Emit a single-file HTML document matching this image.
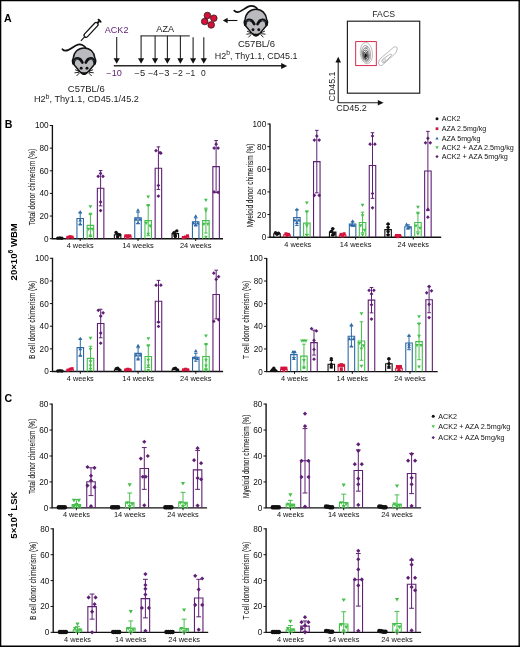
<!DOCTYPE html>
<html><head><meta charset="utf-8"><title>Figure</title>
<style>html,body{margin:0;padding:0;background:#fff;}svg{display:block;}text{font-family:"Liberation Sans", sans-serif;}</style>
</head><body>
<svg style="will-change:transform" width="520" height="647" viewBox="0 0 520 647">
<rect width="520" height="647" fill="#fff"/>
<text x="4.00" y="21.50" font-size="10.6" text-anchor="start" font-weight="bold" fill="#000">A</text>
<g transform="translate(80.9 40.8) rotate(-47)"><path d="M0 0H5.8" stroke="#111" stroke-width="1.1"/><rect x="5.6" y="-2" width="18.6" height="4" rx="2" fill="#fff" stroke="#111" stroke-width="1.25"/><path d="M24 0H26.6" stroke="#111" stroke-width="2.0"/><ellipse cx="27.4" cy="0" rx="1.15" ry="2.5" fill="#111"/></g>
<g transform="translate(0.00 0.00)"><path d="M86.2 48.8C84.8 45.2 80.5 43.4 76.4 45.2C72.4 47 69.6 50.6 65.6 50.7C64.2 50.7 63 50 62.4 49.2" stroke="#111" stroke-width="1.7" fill="none" stroke-linecap="round"/><path d="M84 74.3C82.2 74.3 80.9 72.8 79.7 71.5L74.1 64.8C72.2 62.7 71.9 60.4 73.3 58.2C73.8 52 78.2 47.9 84.1 47.9C90 47.9 94.4 52 94.9 58.2C96.3 60.4 96 62.7 94.1 64.8L88.5 71.5C87.3 72.8 85.8 74.3 84 74.3Z" fill="#bababf" stroke="#111" stroke-width="1.45" stroke-linejoin="round"/><path d="M73.5 63.4C73.5 59.7 75.8 58.3 77.8 58.4C79.9 58.5 81.4 60.2 82.4 62.6M94.7 63.4C94.7 59.7 92.4 58.3 90.4 58.4C88.3 58.5 86.8 60.2 85.8 62.6" stroke="#111" stroke-width="2.7" fill="none" stroke-linecap="round"/><path d="M74.4 60.9C75.1 59.6 76.5 59 78.3 59.1M93.8 60.9C93.1 59.6 91.7 59 89.9 59.1" stroke="#4a6684" stroke-width="0.7" fill="none" stroke-linecap="round"/><circle cx="81.2" cy="68.3" r="1.45" fill="#111"/><circle cx="87.0" cy="68.3" r="1.45" fill="#111"/><path d="M80.2 71.6C82 72.5 86.4 72.5 88.2 71.6C87.4 74 85.6 75.1 84.2 75.1C82.8 75.1 81 74 80.2 71.6Z" fill="#111"/><path d="M79.4 71.5L75.1 69.7M79.1 72.3L74.5 72.8M79.5 73L76.5 76M88.8 71.5L93.1 69.7M89.1 72.3L93.7 72.8M88.7 73L91.7 76" stroke="#000" stroke-width="0.85"/></g>
<g transform="translate(171.80 -38.60)"><path d="M86.2 48.8C84.8 45.2 80.5 43.4 76.4 45.2C72.4 47 69.6 50.6 65.6 50.7C64.2 50.7 63 50 62.4 49.2" stroke="#111" stroke-width="1.7" fill="none" stroke-linecap="round"/><path d="M84 74.3C82.2 74.3 80.9 72.8 79.7 71.5L74.1 64.8C72.2 62.7 71.9 60.4 73.3 58.2C73.8 52 78.2 47.9 84.1 47.9C90 47.9 94.4 52 94.9 58.2C96.3 60.4 96 62.7 94.1 64.8L88.5 71.5C87.3 72.8 85.8 74.3 84 74.3Z" fill="#bababf" stroke="#111" stroke-width="1.45" stroke-linejoin="round"/><path d="M73.5 63.4C73.5 59.7 75.8 58.3 77.8 58.4C79.9 58.5 81.4 60.2 82.4 62.6M94.7 63.4C94.7 59.7 92.4 58.3 90.4 58.4C88.3 58.5 86.8 60.2 85.8 62.6" stroke="#111" stroke-width="2.7" fill="none" stroke-linecap="round"/><path d="M74.4 60.9C75.1 59.6 76.5 59 78.3 59.1M93.8 60.9C93.1 59.6 91.7 59 89.9 59.1" stroke="#4a6684" stroke-width="0.7" fill="none" stroke-linecap="round"/><circle cx="81.2" cy="68.3" r="1.45" fill="#111"/><circle cx="87.0" cy="68.3" r="1.45" fill="#111"/><path d="M80.2 71.6C82 72.5 86.4 72.5 88.2 71.6C87.4 74 85.6 75.1 84.2 75.1C82.8 75.1 81 74 80.2 71.6Z" fill="#111"/><path d="M79.4 71.5L75.1 69.7M79.1 72.3L74.5 72.8M79.5 73L76.5 76M88.8 71.5L93.1 69.7M89.1 72.3L93.7 72.8M88.7 73L91.7 76" stroke="#000" stroke-width="0.85"/></g>
<text x="86.30" y="91.90" font-size="9.2" text-anchor="middle" font-weight="normal" fill="#222" textLength="36.90" lengthAdjust="spacingAndGlyphs">C57BL/6</text>
<text x="86.40" y="102.30" font-size="9.2" text-anchor="middle" font-weight="normal" fill="#222" textLength="105.00" lengthAdjust="spacingAndGlyphs">H2<tspan font-size="7" dy="-3.1">b</tspan><tspan dy="3.1">, Thy1.1, CD45.1/45.2</tspan></text>
<text x="256.50" y="47.10" font-size="9.2" text-anchor="middle" font-weight="normal" fill="#222" textLength="37.10" lengthAdjust="spacingAndGlyphs">C57BL/6</text>
<text x="256.20" y="58.50" font-size="9.2" text-anchor="middle" font-weight="normal" fill="#222" textLength="82.70" lengthAdjust="spacingAndGlyphs">H2<tspan font-size="7" dy="-3.1">b</tspan><tspan dy="3.1">, Thy1.1, CD45.1</tspan></text>
<text x="116.60" y="33.10" font-size="9.0" text-anchor="middle" font-weight="normal" fill="#5a1c70" textLength="23.70" lengthAdjust="spacingAndGlyphs">ACK2</text>
<text x="165.20" y="31.70" font-size="9.0" text-anchor="middle" font-weight="normal" fill="#222" textLength="17.70" lengthAdjust="spacingAndGlyphs">AZA</text>
<path d="M113.8 65.7H282.5" stroke="#2a2a2a" stroke-width="1.5"/>
<path d="M287.2 65.9L281.2 62.9L281.2 68.9Z" fill="#111"/>
<path d="M140.6 35.8H189.8" stroke="#444" stroke-width="1.3"/>
<path d="M116.7 36.9V59" stroke="#222" stroke-width="1.1"/>
<path d="M113.60000000000001 58.2L119.8 58.2L116.7 63.8Z" fill="#111"/>
<path d="M141.1 35.8V59" stroke="#222" stroke-width="1.1"/>
<path d="M138.0 58.2L144.2 58.2L141.1 63.8Z" fill="#111"/>
<path d="M155.1 35.8V59" stroke="#222" stroke-width="1.1"/>
<path d="M152.0 58.2L158.2 58.2L155.1 63.8Z" fill="#111"/>
<path d="M167.4 35.8V59" stroke="#222" stroke-width="1.1"/>
<path d="M164.3 58.2L170.5 58.2L167.4 63.8Z" fill="#111"/>
<path d="M180.4 35.8V59" stroke="#222" stroke-width="1.1"/>
<path d="M177.3 58.2L183.5 58.2L180.4 63.8Z" fill="#111"/>
<path d="M193.1 37.3V59" stroke="#222" stroke-width="1.1"/>
<path d="M190.0 58.2L196.2 58.2L193.1 63.8Z" fill="#111"/>
<path d="M203.8 37.3V59" stroke="#222" stroke-width="1.1"/>
<path d="M200.70000000000002 58.2L206.9 58.2L203.8 63.8Z" fill="#111"/>
<text x="114.05" y="76.30" font-size="8.4" text-anchor="middle" font-weight="normal" fill="#5a1c70" textLength="15.50" lengthAdjust="spacingAndGlyphs">−10</text>
<text x="139.80" y="76.30" font-size="8.4" text-anchor="middle" font-weight="normal" fill="#222" textLength="10.60" lengthAdjust="spacingAndGlyphs">−5</text>
<text x="153.20" y="76.30" font-size="8.4" text-anchor="middle" font-weight="normal" fill="#222" textLength="10.00" lengthAdjust="spacingAndGlyphs">−4</text>
<text x="164.10" y="76.30" font-size="8.4" text-anchor="middle" font-weight="normal" fill="#222" textLength="10.60" lengthAdjust="spacingAndGlyphs">−3</text>
<text x="177.95" y="76.30" font-size="8.4" text-anchor="middle" font-weight="normal" fill="#222" textLength="9.90" lengthAdjust="spacingAndGlyphs">−2</text>
<text x="190.45" y="76.30" font-size="8.4" text-anchor="middle" font-weight="normal" fill="#222" textLength="9.50" lengthAdjust="spacingAndGlyphs">−1</text>
<text x="203.45" y="76.30" font-size="8.4" text-anchor="middle" font-weight="normal" fill="#222" textLength="4.70" lengthAdjust="spacingAndGlyphs">0</text>
<circle cx="207.4" cy="15.5" r="3.3" fill="#d3123a" stroke="#2a1515" stroke-width="0.75"/>
<circle cx="213.8" cy="18.2" r="3.3" fill="#d3123a" stroke="#2a1515" stroke-width="0.75"/>
<circle cx="204.7" cy="21.5" r="3.3" fill="#d3123a" stroke="#2a1515" stroke-width="0.75"/>
<circle cx="211.2" cy="24.9" r="3.3" fill="#d3123a" stroke="#2a1515" stroke-width="0.75"/>
<path d="M237.4 20.5H226.5" stroke="#111" stroke-width="1.1"/><path d="M222.8 20.5L227.6 17.8L227.6 23.2Z" fill="#111"/>
<text x="383.60" y="16.70" font-size="8.4" text-anchor="middle" font-weight="normal" fill="#222" textLength="22.70" lengthAdjust="spacingAndGlyphs">FACS</text>
<rect x="347.4" y="21.2" width="72.3" height="72.0" fill="none" stroke="#222" stroke-width="1.2"/>
<rect x="355.7" y="41.6" width="20.6" height="24.0" fill="none" stroke="#d4143c" stroke-width="0.9"/>
<ellipse cx="366.4" cy="53.1" rx="6.1" ry="10.7" fill="none" stroke="#8a8a8a" stroke-width="0.55" transform="rotate(-6 366.4 53.1)"/>
<ellipse cx="366.1" cy="53.9" rx="4.5" ry="8.4" fill="none" stroke="#666" stroke-width="0.55" transform="rotate(-6 366.1 53.9)"/>
<ellipse cx="365.9" cy="54.5" rx="3.4" ry="6.6" fill="none" stroke="#4a4a4a" stroke-width="0.6" transform="rotate(-6 365.9 54.5)"/>
<ellipse cx="365.8" cy="55.0" rx="2.5" ry="5.0" fill="none" stroke="#333" stroke-width="0.7" transform="rotate(-6 365.8 55.0)"/>
<ellipse cx="365.7" cy="55.3" rx="1.7" ry="3.5" fill="none" stroke="#222" stroke-width="0.8" transform="rotate(-6 365.7 55.3)"/>
<ellipse cx="365.7" cy="55.6" rx="1.2" ry="2.3" fill="#111"/>
<path d="M366.3 49.2C364.8 46.6 367.8 45.6 367.4 48.6" stroke="#444" stroke-width="0.5" fill="none"/>
<path d="M380 65.5C377.5 64 378.5 60.5 381 58L393 47.8C395.5 46 397.6 46.6 397 49.5C396.5 52.5 395 54 392.5 56L384 63.5C382.5 64.8 381.5 66 380 65.5Z" fill="none" stroke="#8a8a8a" stroke-width="0.6"/>
<path d="M382.5 62.5C381.2 61.5 382 59.5 384 58.2L389.5 54.5C391 53.6 392.2 54.4 391.3 55.6L385.8 61.4C384.8 62.4 383.6 63.2 382.5 62.5Z" fill="none" stroke="#8a8a8a" stroke-width="0.6"/>
<ellipse cx="384.3" cy="60.3" rx="1.7" ry="1.0" fill="none" stroke="#999" stroke-width="0.5" transform="rotate(-40 384.3 60.3)"/>
<path d="M338.2 103V61.5M338.2 102.8H379" stroke="#222" stroke-width="1.1" fill="none"/>
<path d="M338.2 56.8L335.4 62.6L341 62.6Z" fill="#111"/><path d="M383.6 102.8L377.8 100L377.8 105.6Z" fill="#111"/>
<text x="351.50" y="111.20" font-size="8.4" text-anchor="middle" font-weight="normal" fill="#222" textLength="30.70" lengthAdjust="spacingAndGlyphs">CD45.2</text>
<text x="334.90" y="86.50" font-size="8.4" text-anchor="middle" font-weight="normal" fill="#222" textLength="30.00" lengthAdjust="spacingAndGlyphs" transform="rotate(-90 334.90 86.50)">CD45.1</text>
<text x="4.80" y="127.70" font-size="10.6" text-anchor="start" font-weight="bold" fill="#000">B</text>
<text x="4.40" y="401.60" font-size="10.6" text-anchor="start" font-weight="bold" fill="#000">C</text>
<text x="16.70" y="251.80" font-size="9.4" text-anchor="middle" font-weight="bold" fill="#000" textLength="57.20" lengthAdjust="spacingAndGlyphs" transform="rotate(-90 16.70 251.80)">20×10<tspan font-size="6.6" dy="-3.4">6</tspan><tspan dy="3.4"> WBM</tspan></text>
<text x="16.70" y="515.10" font-size="9.4" text-anchor="middle" font-weight="bold" fill="#000" textLength="47.10" lengthAdjust="spacingAndGlyphs" transform="rotate(-90 16.70 515.10)">5×10<tspan font-size="6.6" dy="-3.4">4</tspan><tspan dy="3.4"> LSK</tspan></text>
<text x="34.70" y="187.00" font-size="9.2" text-anchor="middle" font-weight="normal" fill="#1a1a1a" textLength="76.40" lengthAdjust="spacingAndGlyphs" transform="rotate(-90 34.70 187.00)" stroke="#1a1a1a" stroke-width="0.1">Total donor chimerism (%)</text>
<path d="M52.40 125.00V238.70H223.00" stroke="#111" stroke-width="1.35" fill="none"/>
<path d="M49.80 238.70H52.40" stroke="#111" stroke-width="1"/>
<text x="48.60" y="241.65" font-size="8.4" text-anchor="end" font-weight="normal" fill="#111" textLength="4.56" lengthAdjust="spacingAndGlyphs">0</text>
<path d="M49.80 216.06H52.40" stroke="#111" stroke-width="1"/>
<text x="48.60" y="219.01" font-size="8.4" text-anchor="end" font-weight="normal" fill="#111" textLength="9.12" lengthAdjust="spacingAndGlyphs">20</text>
<path d="M49.80 193.42H52.40" stroke="#111" stroke-width="1"/>
<text x="48.60" y="196.37" font-size="8.4" text-anchor="end" font-weight="normal" fill="#111" textLength="9.12" lengthAdjust="spacingAndGlyphs">40</text>
<path d="M49.80 170.78H52.40" stroke="#111" stroke-width="1"/>
<text x="48.60" y="173.73" font-size="8.4" text-anchor="end" font-weight="normal" fill="#111" textLength="9.12" lengthAdjust="spacingAndGlyphs">60</text>
<path d="M49.80 148.14H52.40" stroke="#111" stroke-width="1"/>
<text x="48.60" y="151.09" font-size="8.4" text-anchor="end" font-weight="normal" fill="#111" textLength="9.12" lengthAdjust="spacingAndGlyphs">80</text>
<path d="M49.80 125.50H52.40" stroke="#111" stroke-width="1"/>
<text x="48.60" y="128.45" font-size="8.4" text-anchor="end" font-weight="normal" fill="#111" textLength="13.68" lengthAdjust="spacingAndGlyphs">100</text>
<path d="M56.55 238.70V238.25H63.05V238.70" fill="none" stroke="#111111" stroke-width="1.1"/>
<circle cx="57.80" cy="238.13" r="1.70" fill="#111111"/>
<circle cx="59.80" cy="238.02" r="1.70" fill="#111111"/>
<circle cx="61.80" cy="238.25" r="1.70" fill="#111111"/>
<path d="M66.75 238.70V237.34H73.25V238.70" fill="none" stroke="#d4143c" stroke-width="1.1"/>
<rect x="66.47" y="235.81" width="3.06" height="3.06" fill="#d4143c"/>
<rect x="68.47" y="235.13" width="3.06" height="3.06" fill="#d4143c"/>
<rect x="70.47" y="235.59" width="3.06" height="3.06" fill="#d4143c"/>
<path d="M76.95 238.70V218.55H83.45V238.70" fill="none" stroke="#2e6aa6" stroke-width="1.1"/>
<path d="M80.20 212.66V224.44M78.40 212.66H82.00M78.40 224.44H82.00" stroke="#2e6aa6" stroke-width="1" fill="none"/>
<path d="M80.20 210.11L82.07 213.39L78.33 213.39Z" fill="#2e6aa6"/>
<path d="M80.20 218.27L82.07 221.54L78.33 221.54Z" fill="#2e6aa6"/>
<path d="M80.20 222.34L82.07 225.61L78.33 225.61Z" fill="#2e6aa6"/>
<path d="M87.15 238.70V225.34H93.65V238.70" fill="none" stroke="#45bf4b" stroke-width="1.1"/>
<path d="M90.40 214.25V236.44M88.60 214.25H92.20M88.60 236.44H92.20" stroke="#45bf4b" stroke-width="1" fill="none"/>
<path d="M90.40 208.42L92.27 205.15L88.53 205.15Z" fill="#45bf4b"/>
<path d="M90.40 216.12L92.27 212.85L88.53 212.85Z" fill="#45bf4b"/>
<path d="M88.60 230.95L90.47 227.68L86.73 227.68Z" fill="#45bf4b"/>
<path d="M92.20 230.95L94.07 227.68L90.33 227.68Z" fill="#45bf4b"/>
<path d="M90.40 237.74L92.27 234.47L88.53 234.47Z" fill="#45bf4b"/>
<path d="M97.35 238.70V188.21H103.85V238.70" fill="none" stroke="#5e1f74" stroke-width="1.1"/>
<path d="M100.60 170.55V205.87M98.80 170.55H102.40M98.80 205.87H102.40" stroke="#5e1f74" stroke-width="1" fill="none"/>
<path d="M100.60 171.51L102.47 173.38L100.60 175.25L98.73 173.38Z" fill="#5e1f74"/>
<path d="M98.20 174.46L100.07 176.33L98.20 178.20L96.33 176.33Z" fill="#5e1f74"/>
<path d="M103.00 174.46L104.87 176.33L103.00 178.20L101.13 176.33Z" fill="#5e1f74"/>
<path d="M100.60 200.04L102.47 201.91L100.60 203.78L98.73 201.91Z" fill="#5e1f74"/>
<path d="M100.60 208.64L102.47 210.51L100.60 212.38L98.73 210.51Z" fill="#5e1f74"/>
<path d="M80.20 238.70V241.00" stroke="#111" stroke-width="1"/>
<text x="80.20" y="248.10" font-size="7.4" text-anchor="middle" font-weight="normal" fill="#111" textLength="27.00" lengthAdjust="spacingAndGlyphs">4 weeks</text>
<path d="M114.35 238.70V234.74H120.85V238.70" fill="none" stroke="#111111" stroke-width="1.1"/>
<path d="M117.60 233.61V235.87M115.80 233.61H119.40M115.80 235.87H119.40" stroke="#111111" stroke-width="1" fill="none"/>
<circle cx="116.10" cy="232.47" r="1.70" fill="#111111"/>
<circle cx="117.60" cy="234.17" r="1.70" fill="#111111"/>
<circle cx="119.60" cy="234.74" r="1.70" fill="#111111"/>
<circle cx="117.60" cy="237.00" r="1.70" fill="#111111"/>
<path d="M124.55 238.70V236.44H131.05V238.70" fill="none" stroke="#d4143c" stroke-width="1.1"/>
<rect x="124.27" y="234.34" width="3.06" height="3.06" fill="#d4143c"/>
<rect x="126.27" y="234.34" width="3.06" height="3.06" fill="#d4143c"/>
<rect x="128.27" y="234.34" width="3.06" height="3.06" fill="#d4143c"/>
<rect x="126.27" y="236.04" width="3.06" height="3.06" fill="#d4143c"/>
<path d="M134.75 238.70V217.87H141.25V238.70" fill="none" stroke="#2e6aa6" stroke-width="1.1"/>
<path d="M138.00 212.21V223.53M136.20 212.21H139.80M136.20 223.53H139.80" stroke="#2e6aa6" stroke-width="1" fill="none"/>
<path d="M138.00 208.30L139.87 211.58L136.13 211.58Z" fill="#2e6aa6"/>
<path d="M136.00 217.59L137.87 220.86L134.13 220.86Z" fill="#2e6aa6"/>
<path d="M140.00 217.59L141.87 220.86L138.13 220.86Z" fill="#2e6aa6"/>
<path d="M138.00 220.98L139.87 224.25L136.13 224.25Z" fill="#2e6aa6"/>
<path d="M144.95 238.70V220.59H151.45V238.70" fill="none" stroke="#45bf4b" stroke-width="1.1"/>
<path d="M148.20 205.42V235.76M146.40 205.42H150.00M146.40 235.76H150.00" stroke="#45bf4b" stroke-width="1" fill="none"/>
<path d="M148.20 198.80L150.07 195.53L146.33 195.53Z" fill="#45bf4b"/>
<path d="M148.20 207.29L150.07 204.02L146.33 204.02Z" fill="#45bf4b"/>
<path d="M146.20 225.06L148.07 221.79L144.33 221.79Z" fill="#45bf4b"/>
<path d="M150.20 227.89L152.07 224.62L148.33 224.62Z" fill="#45bf4b"/>
<path d="M148.20 236.04L150.07 232.77L146.33 232.77Z" fill="#45bf4b"/>
<path d="M155.15 238.70V168.18H161.65V238.70" fill="none" stroke="#5e1f74" stroke-width="1.1"/>
<path d="M158.40 146.89V189.46M156.60 146.89H160.20M156.60 189.46H160.20" stroke="#5e1f74" stroke-width="1" fill="none"/>
<path d="M156.00 148.76L157.87 150.63L156.00 152.50L154.13 150.63Z" fill="#5e1f74"/>
<path d="M160.00 150.80L161.87 152.67L160.00 154.54L158.13 152.67Z" fill="#5e1f74"/>
<path d="M160.90 151.36L162.77 153.23L160.90 155.10L159.03 153.23Z" fill="#5e1f74"/>
<path d="M158.40 183.51L160.27 185.38L158.40 187.25L156.53 185.38Z" fill="#5e1f74"/>
<path d="M158.40 194.15L160.27 196.02L158.40 197.89L156.53 196.02Z" fill="#5e1f74"/>
<path d="M138.00 238.70V241.00" stroke="#111" stroke-width="1"/>
<text x="138.00" y="248.10" font-size="7.4" text-anchor="middle" font-weight="normal" fill="#111" textLength="31.60" lengthAdjust="spacingAndGlyphs">14 weeks</text>
<path d="M172.05 238.70V233.61H178.55V238.70" fill="none" stroke="#111111" stroke-width="1.1"/>
<path d="M175.30 231.34V235.87M173.50 231.34H177.10M173.50 235.87H177.10" stroke="#111111" stroke-width="1" fill="none"/>
<circle cx="176.80" cy="230.89" r="1.70" fill="#111111"/>
<circle cx="173.80" cy="233.04" r="1.70" fill="#111111"/>
<circle cx="175.30" cy="235.30" r="1.70" fill="#111111"/>
<circle cx="175.30" cy="236.44" r="1.70" fill="#111111"/>
<path d="M182.25 238.70V237.00H188.75V238.70" fill="none" stroke="#d4143c" stroke-width="1.1"/>
<rect x="185.97" y="234.34" width="3.06" height="3.06" fill="#d4143c"/>
<rect x="183.97" y="235.47" width="3.06" height="3.06" fill="#d4143c"/>
<rect x="181.97" y="236.04" width="3.06" height="3.06" fill="#d4143c"/>
<path d="M192.45 238.70V221.72H198.95V238.70" fill="none" stroke="#2e6aa6" stroke-width="1.1"/>
<path d="M195.70 217.87V225.57M193.90 217.87H197.50M193.90 225.57H197.50" stroke="#2e6aa6" stroke-width="1" fill="none"/>
<path d="M195.70 214.19L197.57 217.46L193.83 217.46Z" fill="#2e6aa6"/>
<path d="M193.70 221.32L195.57 224.59L191.83 224.59Z" fill="#2e6aa6"/>
<path d="M197.70 221.32L199.57 224.59L195.83 224.59Z" fill="#2e6aa6"/>
<path d="M195.70 223.25L197.57 226.52L193.83 226.52Z" fill="#2e6aa6"/>
<path d="M202.65 238.70V220.59H209.15V238.70" fill="none" stroke="#45bf4b" stroke-width="1.1"/>
<path d="M205.90 208.14V233.04M204.10 208.14H207.70M204.10 233.04H207.70" stroke="#45bf4b" stroke-width="1" fill="none"/>
<path d="M205.90 201.97L207.77 198.70L204.03 198.70Z" fill="#45bf4b"/>
<path d="M205.90 212.61L207.77 209.34L204.03 209.34Z" fill="#45bf4b"/>
<path d="M203.90 225.97L205.77 222.69L202.03 222.69Z" fill="#45bf4b"/>
<path d="M207.90 225.97L209.77 222.69L206.03 222.69Z" fill="#45bf4b"/>
<path d="M205.90 238.99L207.77 235.71L204.03 235.71Z" fill="#45bf4b"/>
<path d="M212.85 238.70V166.59H219.35V238.70" fill="none" stroke="#5e1f74" stroke-width="1.1"/>
<path d="M216.10 140.56V192.63M214.30 140.56H217.90M214.30 192.63H217.90" stroke="#5e1f74" stroke-width="1" fill="none"/>
<path d="M216.10 142.31L217.97 144.18L216.10 146.05L214.23 144.18Z" fill="#5e1f74"/>
<path d="M214.10 146.16L215.97 148.03L214.10 149.90L212.23 148.03Z" fill="#5e1f74"/>
<path d="M218.10 146.16L219.97 148.03L218.10 149.90L216.23 148.03Z" fill="#5e1f74"/>
<path d="M214.10 190.08L215.97 191.95L214.10 193.82L212.23 191.95Z" fill="#5e1f74"/>
<path d="M218.10 190.42L219.97 192.29L218.10 194.16L216.23 192.29Z" fill="#5e1f74"/>
<path d="M195.70 238.70V241.00" stroke="#111" stroke-width="1"/>
<text x="195.70" y="248.10" font-size="7.4" text-anchor="middle" font-weight="normal" fill="#111" textLength="31.60" lengthAdjust="spacingAndGlyphs">24 weeks</text>
<text x="252.90" y="185.40" font-size="9.2" text-anchor="middle" font-weight="normal" fill="#1a1a1a" textLength="83.80" lengthAdjust="spacingAndGlyphs" transform="rotate(-90 252.90 185.40)" stroke="#1a1a1a" stroke-width="0.1">Myeloid donor chimerism (%)</text>
<path d="M270.00 123.50V237.20H441.20" stroke="#111" stroke-width="1.35" fill="none"/>
<path d="M267.40 237.20H270.00" stroke="#111" stroke-width="1"/>
<text x="266.20" y="240.15" font-size="8.4" text-anchor="end" font-weight="normal" fill="#111" textLength="4.56" lengthAdjust="spacingAndGlyphs">0</text>
<path d="M267.40 214.56H270.00" stroke="#111" stroke-width="1"/>
<text x="266.20" y="217.51" font-size="8.4" text-anchor="end" font-weight="normal" fill="#111" textLength="9.12" lengthAdjust="spacingAndGlyphs">20</text>
<path d="M267.40 191.92H270.00" stroke="#111" stroke-width="1"/>
<text x="266.20" y="194.87" font-size="8.4" text-anchor="end" font-weight="normal" fill="#111" textLength="9.12" lengthAdjust="spacingAndGlyphs">40</text>
<path d="M267.40 169.28H270.00" stroke="#111" stroke-width="1"/>
<text x="266.20" y="172.23" font-size="8.4" text-anchor="end" font-weight="normal" fill="#111" textLength="9.12" lengthAdjust="spacingAndGlyphs">60</text>
<path d="M267.40 146.64H270.00" stroke="#111" stroke-width="1"/>
<text x="266.20" y="149.59" font-size="8.4" text-anchor="end" font-weight="normal" fill="#111" textLength="9.12" lengthAdjust="spacingAndGlyphs">80</text>
<path d="M267.40 124.00H270.00" stroke="#111" stroke-width="1"/>
<text x="266.20" y="126.95" font-size="8.4" text-anchor="end" font-weight="normal" fill="#111" textLength="13.68" lengthAdjust="spacingAndGlyphs">100</text>
<path d="M273.75 237.20V233.80H280.25V237.20" fill="none" stroke="#111111" stroke-width="1.1"/>
<circle cx="275.50" cy="232.67" r="1.70" fill="#111111"/>
<circle cx="278.50" cy="233.24" r="1.70" fill="#111111"/>
<circle cx="277.00" cy="234.37" r="1.70" fill="#111111"/>
<path d="M283.70 237.20V234.71H290.20V237.20" fill="none" stroke="#d4143c" stroke-width="1.1"/>
<rect x="284.42" y="232.27" width="3.06" height="3.06" fill="#d4143c"/>
<rect x="286.92" y="232.84" width="3.06" height="3.06" fill="#d4143c"/>
<rect x="285.42" y="233.97" width="3.06" height="3.06" fill="#d4143c"/>
<path d="M293.65 237.20V217.50H300.15V237.20" fill="none" stroke="#2e6aa6" stroke-width="1.1"/>
<path d="M296.90 209.58V225.43M295.10 209.58H298.70M295.10 225.43H298.70" stroke="#2e6aa6" stroke-width="1" fill="none"/>
<path d="M296.90 207.60L298.77 210.87L295.03 210.87Z" fill="#2e6aa6"/>
<path d="M294.90 218.35L296.77 221.62L293.03 221.62Z" fill="#2e6aa6"/>
<path d="M298.90 218.35L300.77 221.62L297.03 221.62Z" fill="#2e6aa6"/>
<path d="M296.90 220.61L298.77 223.89L295.03 223.89Z" fill="#2e6aa6"/>
<path d="M303.60 237.20V223.16H310.10V237.20" fill="none" stroke="#45bf4b" stroke-width="1.1"/>
<path d="M306.85 211.73V234.60M305.05 211.73H308.65M305.05 234.60H308.65" stroke="#45bf4b" stroke-width="1" fill="none"/>
<path d="M306.85 204.77L308.72 201.50L304.98 201.50Z" fill="#45bf4b"/>
<path d="M306.85 213.60L308.72 210.33L304.98 210.33Z" fill="#45bf4b"/>
<path d="M306.85 227.41L308.72 224.14L304.98 224.14Z" fill="#45bf4b"/>
<path d="M306.85 237.15L308.72 233.87L304.98 233.87Z" fill="#45bf4b"/>
<path d="M313.55 237.20V161.58H320.05V237.20" fill="none" stroke="#5e1f74" stroke-width="1.1"/>
<path d="M316.80 130.34V192.83M315.00 130.34H318.60M315.00 192.83H318.60" stroke="#5e1f74" stroke-width="1" fill="none"/>
<path d="M316.80 134.13L318.67 136.00L316.80 137.87L314.93 136.00Z" fill="#5e1f74"/>
<path d="M314.40 138.20L316.27 140.07L314.40 141.94L312.53 140.07Z" fill="#5e1f74"/>
<path d="M319.20 138.20L321.07 140.07L319.20 141.94L317.33 140.07Z" fill="#5e1f74"/>
<path d="M314.40 193.45L316.27 195.32L314.40 197.19L312.53 195.32Z" fill="#5e1f74"/>
<path d="M319.20 193.45L321.07 195.32L319.20 197.19L317.33 195.32Z" fill="#5e1f74"/>
<path d="M297.80 237.20V239.50" stroke="#111" stroke-width="1"/>
<text x="297.80" y="246.60" font-size="7.4" text-anchor="middle" font-weight="normal" fill="#111" textLength="27.00" lengthAdjust="spacingAndGlyphs">4 weeks</text>
<path d="M329.45 237.20V232.11H335.95V237.20" fill="none" stroke="#111111" stroke-width="1.1"/>
<path d="M332.70 228.71V235.50M330.90 228.71H334.50M330.90 235.50H334.50" stroke="#111111" stroke-width="1" fill="none"/>
<circle cx="332.70" cy="228.71" r="1.70" fill="#111111"/>
<circle cx="331.20" cy="231.54" r="1.70" fill="#111111"/>
<circle cx="334.20" cy="233.80" r="1.70" fill="#111111"/>
<circle cx="332.70" cy="234.94" r="1.70" fill="#111111"/>
<path d="M339.40 237.20V234.94H345.90V237.20" fill="none" stroke="#d4143c" stroke-width="1.1"/>
<rect x="339.62" y="232.84" width="3.06" height="3.06" fill="#d4143c"/>
<rect x="342.62" y="232.27" width="3.06" height="3.06" fill="#d4143c"/>
<rect x="341.12" y="234.54" width="3.06" height="3.06" fill="#d4143c"/>
<path d="M349.35 237.20V224.07H355.85V237.20" fill="none" stroke="#2e6aa6" stroke-width="1.1"/>
<path d="M352.60 221.80V226.33M350.80 221.80H354.40M350.80 226.33H354.40" stroke="#2e6aa6" stroke-width="1" fill="none"/>
<path d="M352.60 219.26L354.47 222.53L350.73 222.53Z" fill="#2e6aa6"/>
<path d="M351.10 222.88L352.97 226.15L349.23 226.15Z" fill="#2e6aa6"/>
<path d="M354.10 223.44L355.97 226.72L352.23 226.72Z" fill="#2e6aa6"/>
<path d="M359.30 237.20V222.48H365.80V237.20" fill="none" stroke="#45bf4b" stroke-width="1.1"/>
<path d="M362.55 212.18V232.79M360.75 212.18H364.35M360.75 232.79H364.35" stroke="#45bf4b" stroke-width="1" fill="none"/>
<path d="M362.55 206.92L364.42 203.65L360.68 203.65Z" fill="#45bf4b"/>
<path d="M362.55 217.56L364.42 214.29L360.68 214.29Z" fill="#45bf4b"/>
<path d="M360.55 227.41L362.42 224.14L358.68 224.14Z" fill="#45bf4b"/>
<path d="M364.55 231.94L366.42 228.67L362.68 228.67Z" fill="#45bf4b"/>
<path d="M362.55 236.81L364.42 233.53L360.68 233.53Z" fill="#45bf4b"/>
<path d="M369.25 237.20V165.54H375.75V237.20" fill="none" stroke="#5e1f74" stroke-width="1.1"/>
<path d="M372.50 132.72V198.37M370.70 132.72H374.30M370.70 198.37H374.30" stroke="#5e1f74" stroke-width="1" fill="none"/>
<path d="M372.50 134.13L374.37 136.00L372.50 137.87L370.63 136.00Z" fill="#5e1f74"/>
<path d="M370.10 142.28L371.97 144.15L370.10 146.02L368.23 144.15Z" fill="#5e1f74"/>
<path d="M374.90 142.28L376.77 144.15L374.90 146.02L373.03 144.15Z" fill="#5e1f74"/>
<path d="M372.50 191.63L374.37 193.50L372.50 195.37L370.63 193.50Z" fill="#5e1f74"/>
<path d="M372.50 205.90L374.37 207.77L372.50 209.64L370.63 207.77Z" fill="#5e1f74"/>
<path d="M355.60 237.20V239.50" stroke="#111" stroke-width="1"/>
<text x="355.60" y="246.60" font-size="7.4" text-anchor="middle" font-weight="normal" fill="#111" textLength="31.60" lengthAdjust="spacingAndGlyphs">14 weeks</text>
<path d="M384.85 237.20V229.62H391.35V237.20" fill="none" stroke="#111111" stroke-width="1.1"/>
<path d="M388.10 224.52V234.71M386.30 224.52H389.90M386.30 234.71H389.90" stroke="#111111" stroke-width="1" fill="none"/>
<circle cx="388.10" cy="223.84" r="1.70" fill="#111111"/>
<circle cx="388.10" cy="227.35" r="1.70" fill="#111111"/>
<circle cx="388.10" cy="231.54" r="1.70" fill="#111111"/>
<circle cx="388.10" cy="234.94" r="1.70" fill="#111111"/>
<path d="M394.80 237.20V236.07H401.30V237.20" fill="none" stroke="#d4143c" stroke-width="1.1"/>
<rect x="395.02" y="233.97" width="3.06" height="3.06" fill="#d4143c"/>
<rect x="398.02" y="233.97" width="3.06" height="3.06" fill="#d4143c"/>
<rect x="396.52" y="235.10" width="3.06" height="3.06" fill="#d4143c"/>
<path d="M404.75 237.20V226.79H411.25V237.20" fill="none" stroke="#2e6aa6" stroke-width="1.1"/>
<path d="M408.00 224.75V228.82M406.20 224.75H409.80M406.20 228.82H409.80" stroke="#2e6aa6" stroke-width="1" fill="none"/>
<path d="M406.50 222.43L408.37 225.70L404.63 225.70Z" fill="#2e6aa6"/>
<path d="M409.50 225.14L411.37 228.41L407.63 228.41Z" fill="#2e6aa6"/>
<path d="M408.00 226.27L409.87 229.55L406.13 229.55Z" fill="#2e6aa6"/>
<path d="M414.70 237.20V222.48H421.20V237.20" fill="none" stroke="#45bf4b" stroke-width="1.1"/>
<path d="M417.95 213.09V231.88M416.15 213.09H419.75M416.15 231.88H419.75" stroke="#45bf4b" stroke-width="1" fill="none"/>
<path d="M417.95 209.07L419.82 205.80L416.08 205.80Z" fill="#45bf4b"/>
<path d="M417.95 214.96L419.82 211.69L416.08 211.69Z" fill="#45bf4b"/>
<path d="M415.95 227.75L417.82 224.48L414.08 224.48Z" fill="#45bf4b"/>
<path d="M419.95 230.01L421.82 226.74L418.08 226.74Z" fill="#45bf4b"/>
<path d="M417.95 235.67L419.82 232.40L416.08 232.40Z" fill="#45bf4b"/>
<path d="M424.65 237.20V170.98H431.15V237.20" fill="none" stroke="#5e1f74" stroke-width="1.1"/>
<path d="M427.90 131.36V210.60M426.10 131.36H429.70M426.10 210.60H429.70" stroke="#5e1f74" stroke-width="1" fill="none"/>
<path d="M427.90 136.39L429.77 138.26L427.90 140.13L426.03 138.26Z" fill="#5e1f74"/>
<path d="M425.50 140.92L427.37 142.79L425.50 144.66L423.63 142.79Z" fill="#5e1f74"/>
<path d="M430.30 140.92L432.17 142.79L430.30 144.66L428.43 142.79Z" fill="#5e1f74"/>
<path d="M427.90 207.60L429.77 209.47L427.90 211.34L426.03 209.47Z" fill="#5e1f74"/>
<path d="M427.90 215.29L429.77 217.16L427.90 219.03L426.03 217.16Z" fill="#5e1f74"/>
<path d="M413.30 237.20V239.50" stroke="#111" stroke-width="1"/>
<text x="413.30" y="246.60" font-size="7.4" text-anchor="middle" font-weight="normal" fill="#111" textLength="31.60" lengthAdjust="spacingAndGlyphs">24 weeks</text>
<text x="34.90" y="320.00" font-size="9.2" text-anchor="middle" font-weight="normal" fill="#1a1a1a" textLength="78.20" lengthAdjust="spacingAndGlyphs" transform="rotate(-90 34.90 320.00)" stroke="#1a1a1a" stroke-width="0.1">B cell donor chimerism (%)</text>
<path d="M52.50 257.80V371.50H223.10" stroke="#111" stroke-width="1.35" fill="none"/>
<path d="M49.90 371.50H52.50" stroke="#111" stroke-width="1"/>
<text x="48.70" y="374.45" font-size="8.4" text-anchor="end" font-weight="normal" fill="#111" textLength="4.56" lengthAdjust="spacingAndGlyphs">0</text>
<path d="M49.90 348.86H52.50" stroke="#111" stroke-width="1"/>
<text x="48.70" y="351.81" font-size="8.4" text-anchor="end" font-weight="normal" fill="#111" textLength="9.12" lengthAdjust="spacingAndGlyphs">20</text>
<path d="M49.90 326.22H52.50" stroke="#111" stroke-width="1"/>
<text x="48.70" y="329.17" font-size="8.4" text-anchor="end" font-weight="normal" fill="#111" textLength="9.12" lengthAdjust="spacingAndGlyphs">40</text>
<path d="M49.90 303.58H52.50" stroke="#111" stroke-width="1"/>
<text x="48.70" y="306.53" font-size="8.4" text-anchor="end" font-weight="normal" fill="#111" textLength="9.12" lengthAdjust="spacingAndGlyphs">60</text>
<path d="M49.90 280.94H52.50" stroke="#111" stroke-width="1"/>
<text x="48.70" y="283.89" font-size="8.4" text-anchor="end" font-weight="normal" fill="#111" textLength="9.12" lengthAdjust="spacingAndGlyphs">80</text>
<path d="M49.90 258.30H52.50" stroke="#111" stroke-width="1"/>
<text x="48.70" y="261.25" font-size="8.4" text-anchor="end" font-weight="normal" fill="#111" textLength="13.68" lengthAdjust="spacingAndGlyphs">100</text>
<path d="M56.65 371.50V371.05H63.15V371.50" fill="none" stroke="#111111" stroke-width="1.1"/>
<circle cx="57.90" cy="370.93" r="1.70" fill="#111111"/>
<circle cx="59.90" cy="370.82" r="1.70" fill="#111111"/>
<circle cx="61.90" cy="371.05" r="1.70" fill="#111111"/>
<path d="M66.85 371.50V369.80H73.35V371.50" fill="none" stroke="#d4143c" stroke-width="1.1"/>
<rect x="66.57" y="368.61" width="3.06" height="3.06" fill="#d4143c"/>
<rect x="68.57" y="367.71" width="3.06" height="3.06" fill="#d4143c"/>
<rect x="70.57" y="367.14" width="3.06" height="3.06" fill="#d4143c"/>
<path d="M77.05 371.50V347.61H83.55V371.50" fill="none" stroke="#2e6aa6" stroke-width="1.1"/>
<path d="M80.30 339.12V356.10M78.50 339.12H82.10M78.50 356.10H82.10" stroke="#2e6aa6" stroke-width="1" fill="none"/>
<path d="M80.30 336.80L82.17 340.07L78.43 340.07Z" fill="#2e6aa6"/>
<path d="M80.30 346.99L82.17 350.26L78.43 350.26Z" fill="#2e6aa6"/>
<path d="M80.30 353.22L82.17 356.49L78.43 356.49Z" fill="#2e6aa6"/>
<path d="M87.25 371.50V358.37H93.75V371.50" fill="none" stroke="#45bf4b" stroke-width="1.1"/>
<path d="M90.50 346.26V370.48M88.70 346.26H92.30M88.70 370.48H92.30" stroke="#45bf4b" stroke-width="1" fill="none"/>
<path d="M90.50 339.98L92.37 336.70L88.63 336.70Z" fill="#45bf4b"/>
<path d="M90.50 351.30L92.37 348.02L88.63 348.02Z" fill="#45bf4b"/>
<path d="M90.50 363.41L92.37 360.14L88.63 360.14Z" fill="#45bf4b"/>
<path d="M90.50 367.82L92.37 364.55L88.63 364.55Z" fill="#45bf4b"/>
<path d="M90.50 370.99L92.37 367.72L88.63 367.72Z" fill="#45bf4b"/>
<path d="M97.45 371.50V323.50H103.95V371.50" fill="none" stroke="#5e1f74" stroke-width="1.1"/>
<path d="M100.70 309.24V337.77M98.90 309.24H102.50M98.90 337.77H102.50" stroke="#5e1f74" stroke-width="1" fill="none"/>
<path d="M98.30 308.50L100.17 310.37L98.30 312.24L96.43 310.37Z" fill="#5e1f74"/>
<path d="M103.10 310.99L104.97 312.86L103.10 314.73L101.23 312.86Z" fill="#5e1f74"/>
<path d="M100.70 314.16L102.57 316.03L100.70 317.90L98.83 316.03Z" fill="#5e1f74"/>
<path d="M100.70 331.14L102.57 333.01L100.70 334.88L98.83 333.01Z" fill="#5e1f74"/>
<path d="M100.70 341.33L102.57 343.20L100.70 345.07L98.83 343.20Z" fill="#5e1f74"/>
<path d="M80.30 371.50V373.80" stroke="#111" stroke-width="1"/>
<text x="80.30" y="380.90" font-size="7.4" text-anchor="middle" font-weight="normal" fill="#111" textLength="27.00" lengthAdjust="spacingAndGlyphs">4 weeks</text>
<path d="M114.45 371.50V369.80H120.95V371.50" fill="none" stroke="#111111" stroke-width="1.1"/>
<circle cx="116.20" cy="368.67" r="1.70" fill="#111111"/>
<circle cx="117.70" cy="368.10" r="1.70" fill="#111111"/>
<circle cx="119.20" cy="369.80" r="1.70" fill="#111111"/>
<path d="M124.65 371.50V369.80H131.15V371.50" fill="none" stroke="#d4143c" stroke-width="1.1"/>
<rect x="124.37" y="368.27" width="3.06" height="3.06" fill="#d4143c"/>
<rect x="126.37" y="367.71" width="3.06" height="3.06" fill="#d4143c"/>
<rect x="128.37" y="368.27" width="3.06" height="3.06" fill="#d4143c"/>
<path d="M134.85 371.50V353.39H141.35V371.50" fill="none" stroke="#2e6aa6" stroke-width="1.1"/>
<path d="M138.10 347.73V359.05M136.30 347.73H139.90M136.30 359.05H139.90" stroke="#2e6aa6" stroke-width="1" fill="none"/>
<path d="M138.10 343.82L139.97 347.09L136.23 347.09Z" fill="#2e6aa6"/>
<path d="M136.10 353.33L137.97 356.60L134.23 356.60Z" fill="#2e6aa6"/>
<path d="M140.10 353.33L141.97 356.60L138.23 356.60Z" fill="#2e6aa6"/>
<path d="M138.10 357.18L139.97 360.45L136.23 360.45Z" fill="#2e6aa6"/>
<path d="M145.05 371.50V356.56H151.55V371.50" fill="none" stroke="#45bf4b" stroke-width="1.1"/>
<path d="M148.30 345.69V367.42M146.50 345.69H150.10M146.50 367.42H150.10" stroke="#45bf4b" stroke-width="1" fill="none"/>
<path d="M148.30 340.54L150.17 337.27L146.43 337.27Z" fill="#45bf4b"/>
<path d="M148.30 347.56L150.17 344.29L146.43 344.29Z" fill="#45bf4b"/>
<path d="M148.30 362.05L150.17 358.78L146.43 358.78Z" fill="#45bf4b"/>
<path d="M148.30 367.71L150.17 364.44L146.43 364.44Z" fill="#45bf4b"/>
<path d="M148.30 372.24L150.17 368.97L146.43 368.97Z" fill="#45bf4b"/>
<path d="M155.25 371.50V301.32H161.75V371.50" fill="none" stroke="#5e1f74" stroke-width="1.1"/>
<path d="M158.50 280.37V322.26M156.70 280.37H160.30M156.70 322.26H160.30" stroke="#5e1f74" stroke-width="1" fill="none"/>
<path d="M156.10 283.26L157.97 285.13L156.10 287.00L154.23 285.13Z" fill="#5e1f74"/>
<path d="M160.90 283.26L162.77 285.13L160.90 287.00L159.03 285.13Z" fill="#5e1f74"/>
<path d="M158.50 320.16L160.37 322.03L158.50 323.90L156.63 322.03Z" fill="#5e1f74"/>
<path d="M158.50 324.58L160.37 326.45L158.50 328.32L156.63 326.45Z" fill="#5e1f74"/>
<path d="M138.10 371.50V373.80" stroke="#111" stroke-width="1"/>
<text x="138.10" y="380.90" font-size="7.4" text-anchor="middle" font-weight="normal" fill="#111" textLength="31.60" lengthAdjust="spacingAndGlyphs">14 weeks</text>
<path d="M172.15 371.50V369.24H178.65V371.50" fill="none" stroke="#111111" stroke-width="1.1"/>
<circle cx="173.90" cy="368.67" r="1.70" fill="#111111"/>
<circle cx="175.40" cy="368.10" r="1.70" fill="#111111"/>
<circle cx="176.90" cy="369.80" r="1.70" fill="#111111"/>
<path d="M182.35 371.50V369.80H188.85V371.50" fill="none" stroke="#d4143c" stroke-width="1.1"/>
<rect x="182.07" y="368.27" width="3.06" height="3.06" fill="#d4143c"/>
<rect x="184.07" y="367.71" width="3.06" height="3.06" fill="#d4143c"/>
<rect x="186.07" y="368.27" width="3.06" height="3.06" fill="#d4143c"/>
<path d="M192.55 371.50V357.24H199.05V371.50" fill="none" stroke="#2e6aa6" stroke-width="1.1"/>
<path d="M195.80 353.27V361.20M194.00 353.27H197.60M194.00 361.20H197.60" stroke="#2e6aa6" stroke-width="1" fill="none"/>
<path d="M195.80 348.91L197.67 352.19L193.93 352.19Z" fill="#2e6aa6"/>
<path d="M194.30 356.05L196.17 359.32L192.43 359.32Z" fill="#2e6aa6"/>
<path d="M197.30 356.61L199.17 359.88L195.43 359.88Z" fill="#2e6aa6"/>
<path d="M202.75 371.50V356.56H209.25V371.50" fill="none" stroke="#45bf4b" stroke-width="1.1"/>
<path d="M206.00 344.33V368.78M204.20 344.33H207.80M204.20 368.78H207.80" stroke="#45bf4b" stroke-width="1" fill="none"/>
<path d="M206.00 337.71L207.87 334.44L204.13 334.44Z" fill="#45bf4b"/>
<path d="M206.00 346.20L207.87 342.93L204.13 342.93Z" fill="#45bf4b"/>
<path d="M206.00 362.05L207.87 358.78L204.13 358.78Z" fill="#45bf4b"/>
<path d="M206.00 367.71L207.87 364.44L204.13 364.44Z" fill="#45bf4b"/>
<path d="M206.00 372.24L207.87 368.97L204.13 368.97Z" fill="#45bf4b"/>
<path d="M212.95 371.50V294.52H219.45V371.50" fill="none" stroke="#5e1f74" stroke-width="1.1"/>
<path d="M216.20 270.19V318.86M214.40 270.19H218.00M214.40 318.86H218.00" stroke="#5e1f74" stroke-width="1" fill="none"/>
<path d="M213.80 271.37L215.67 273.24L213.80 275.11L211.93 273.24Z" fill="#5e1f74"/>
<path d="M218.60 274.77L220.47 276.64L218.60 278.51L216.73 276.64Z" fill="#5e1f74"/>
<path d="M216.20 277.49L218.07 279.36L216.20 281.23L214.33 279.36Z" fill="#5e1f74"/>
<path d="M213.80 319.48L215.67 321.35L213.80 323.22L211.93 321.35Z" fill="#5e1f74"/>
<path d="M218.60 317.78L220.47 319.65L218.60 321.52L216.73 319.65Z" fill="#5e1f74"/>
<path d="M195.80 371.50V373.80" stroke="#111" stroke-width="1"/>
<text x="195.80" y="380.90" font-size="7.4" text-anchor="middle" font-weight="normal" fill="#111" textLength="31.60" lengthAdjust="spacingAndGlyphs">24 weeks</text>
<text x="249.50" y="319.90" font-size="9.2" text-anchor="middle" font-weight="normal" fill="#1a1a1a" textLength="78.00" lengthAdjust="spacingAndGlyphs" transform="rotate(-90 249.50 319.90)" stroke="#1a1a1a" stroke-width="0.1">T cell donor chimerism (%)</text>
<path d="M266.70 257.90V371.60H437.70" stroke="#111" stroke-width="1.35" fill="none"/>
<path d="M264.10 371.60H266.70" stroke="#111" stroke-width="1"/>
<text x="262.90" y="374.55" font-size="8.4" text-anchor="end" font-weight="normal" fill="#111" textLength="4.56" lengthAdjust="spacingAndGlyphs">0</text>
<path d="M264.10 348.96H266.70" stroke="#111" stroke-width="1"/>
<text x="262.90" y="351.91" font-size="8.4" text-anchor="end" font-weight="normal" fill="#111" textLength="9.12" lengthAdjust="spacingAndGlyphs">20</text>
<path d="M264.10 326.32H266.70" stroke="#111" stroke-width="1"/>
<text x="262.90" y="329.27" font-size="8.4" text-anchor="end" font-weight="normal" fill="#111" textLength="9.12" lengthAdjust="spacingAndGlyphs">40</text>
<path d="M264.10 303.68H266.70" stroke="#111" stroke-width="1"/>
<text x="262.90" y="306.63" font-size="8.4" text-anchor="end" font-weight="normal" fill="#111" textLength="9.12" lengthAdjust="spacingAndGlyphs">60</text>
<path d="M264.10 281.04H266.70" stroke="#111" stroke-width="1"/>
<text x="262.90" y="283.99" font-size="8.4" text-anchor="end" font-weight="normal" fill="#111" textLength="9.12" lengthAdjust="spacingAndGlyphs">80</text>
<path d="M264.10 258.40H266.70" stroke="#111" stroke-width="1"/>
<text x="262.90" y="261.35" font-size="8.4" text-anchor="end" font-weight="normal" fill="#111" textLength="13.68" lengthAdjust="spacingAndGlyphs">100</text>
<path d="M270.55 371.60V370.47H277.05V371.60" fill="none" stroke="#111111" stroke-width="1.1"/>
<circle cx="273.80" cy="368.20" r="1.70" fill="#111111"/>
<circle cx="272.30" cy="369.90" r="1.70" fill="#111111"/>
<circle cx="275.30" cy="370.47" r="1.70" fill="#111111"/>
<path d="M280.60 371.60V369.34H287.10V371.60" fill="none" stroke="#d4143c" stroke-width="1.1"/>
<rect x="280.32" y="366.67" width="3.06" height="3.06" fill="#d4143c"/>
<rect x="282.32" y="366.67" width="3.06" height="3.06" fill="#d4143c"/>
<rect x="284.32" y="366.67" width="3.06" height="3.06" fill="#d4143c"/>
<rect x="282.32" y="368.94" width="3.06" height="3.06" fill="#d4143c"/>
<path d="M290.65 371.60V354.62H297.15V371.60" fill="none" stroke="#2e6aa6" stroke-width="1.1"/>
<path d="M293.90 351.68V357.56M292.10 351.68H295.70M292.10 357.56H295.70" stroke="#2e6aa6" stroke-width="1" fill="none"/>
<path d="M292.90 350.03L294.77 353.31L291.03 353.31Z" fill="#2e6aa6"/>
<path d="M294.90 350.03L296.77 353.31L293.03 353.31Z" fill="#2e6aa6"/>
<path d="M293.90 356.71L295.77 359.98L292.03 359.98Z" fill="#2e6aa6"/>
<path d="M300.70 371.60V356.09H307.20V371.60" fill="none" stroke="#45bf4b" stroke-width="1.1"/>
<path d="M303.95 344.21V367.98M302.15 344.21H305.75M302.15 367.98H305.75" stroke="#45bf4b" stroke-width="1" fill="none"/>
<path d="M301.95 342.68L303.82 339.41L300.08 339.41Z" fill="#45bf4b"/>
<path d="M303.95 342.68L305.82 339.41L302.08 339.41Z" fill="#45bf4b"/>
<path d="M305.95 342.68L307.82 339.41L304.08 339.41Z" fill="#45bf4b"/>
<path d="M303.95 362.15L305.82 358.88L302.08 358.88Z" fill="#45bf4b"/>
<path d="M303.95 369.51L305.82 366.24L302.08 366.24Z" fill="#45bf4b"/>
<path d="M310.75 371.60V342.62H317.25V371.60" fill="none" stroke="#5e1f74" stroke-width="1.1"/>
<path d="M314.00 330.17V355.07M312.20 330.17H315.80M312.20 355.07H315.80" stroke="#5e1f74" stroke-width="1" fill="none"/>
<path d="M311.60 326.83L313.47 328.70L311.60 330.57L309.73 328.70Z" fill="#5e1f74"/>
<path d="M316.40 329.09L318.27 330.96L316.40 332.83L314.53 330.96Z" fill="#5e1f74"/>
<path d="M314.00 338.49L315.87 340.36L314.00 342.23L312.13 340.36Z" fill="#5e1f74"/>
<path d="M314.00 347.54L315.87 349.41L314.00 351.28L312.13 349.41Z" fill="#5e1f74"/>
<path d="M314.00 357.28L315.87 359.15L314.00 361.02L312.13 359.15Z" fill="#5e1f74"/>
<path d="M294.50 371.60V373.90" stroke="#111" stroke-width="1"/>
<text x="294.50" y="381.00" font-size="7.4" text-anchor="middle" font-weight="normal" fill="#111" textLength="27.00" lengthAdjust="spacingAndGlyphs">4 weeks</text>
<path d="M328.05 371.60V364.24H334.55V371.60" fill="none" stroke="#111111" stroke-width="1.1"/>
<path d="M331.30 360.51V367.98M329.50 360.51H333.10M329.50 367.98H333.10" stroke="#111111" stroke-width="1" fill="none"/>
<circle cx="331.30" cy="358.70" r="1.70" fill="#111111"/>
<circle cx="331.30" cy="366.85" r="1.70" fill="#111111"/>
<circle cx="331.30" cy="364.81" r="1.70" fill="#111111"/>
<path d="M338.10 371.60V365.37H344.60V371.60" fill="none" stroke="#d4143c" stroke-width="1.1"/>
<path d="M341.35 363.68V367.07M339.55 363.68H343.15M339.55 367.07H343.15" stroke="#d4143c" stroke-width="1" fill="none"/>
<rect x="337.82" y="363.84" width="3.06" height="3.06" fill="#d4143c"/>
<rect x="341.82" y="363.84" width="3.06" height="3.06" fill="#d4143c"/>
<rect x="339.82" y="367.81" width="3.06" height="3.06" fill="#d4143c"/>
<path d="M348.15 371.60V336.28H354.65V371.60" fill="none" stroke="#2e6aa6" stroke-width="1.1"/>
<path d="M351.40 326.09V346.47M349.60 326.09H353.20M349.60 346.47H353.20" stroke="#2e6aa6" stroke-width="1" fill="none"/>
<path d="M351.40 322.64L353.27 325.91L349.53 325.91Z" fill="#2e6aa6"/>
<path d="M349.40 337.02L351.27 340.29L347.53 340.29Z" fill="#2e6aa6"/>
<path d="M353.40 337.02L355.27 340.29L351.53 340.29Z" fill="#2e6aa6"/>
<path d="M351.40 344.26L353.27 347.53L349.53 347.53Z" fill="#2e6aa6"/>
<path d="M358.20 371.60V341.04H364.70V371.60" fill="none" stroke="#45bf4b" stroke-width="1.1"/>
<path d="M361.45 321.79V360.28M359.65 321.79H363.25M359.65 360.28H363.25" stroke="#45bf4b" stroke-width="1" fill="none"/>
<path d="M361.45 315.40L363.32 312.13L359.58 312.13Z" fill="#45bf4b"/>
<path d="M359.45 345.17L361.32 341.90L357.58 341.90Z" fill="#45bf4b"/>
<path d="M363.45 347.43L365.32 344.16L361.58 344.16Z" fill="#45bf4b"/>
<path d="M361.45 350.83L363.32 347.56L359.58 347.56Z" fill="#45bf4b"/>
<path d="M361.45 368.04L363.32 364.76L359.58 364.76Z" fill="#45bf4b"/>
<path d="M368.25 371.60V300.17H374.75V371.60" fill="none" stroke="#5e1f74" stroke-width="1.1"/>
<path d="M371.50 287.49V312.85M369.70 287.49H373.30M369.70 312.85H373.30" stroke="#5e1f74" stroke-width="1" fill="none"/>
<path d="M369.10 288.45L370.97 290.32L369.10 292.19L367.23 290.32Z" fill="#5e1f74"/>
<path d="M373.90 288.45L375.77 290.32L373.90 292.19L372.03 290.32Z" fill="#5e1f74"/>
<path d="M371.50 292.07L373.37 293.94L371.50 295.81L369.63 293.94Z" fill="#5e1f74"/>
<path d="M371.50 302.94L373.37 304.81L371.50 306.68L369.63 304.81Z" fill="#5e1f74"/>
<path d="M371.50 317.21L373.37 319.08L371.50 320.95L369.63 319.08Z" fill="#5e1f74"/>
<path d="M352.30 371.60V373.90" stroke="#111" stroke-width="1"/>
<text x="352.30" y="381.00" font-size="7.4" text-anchor="middle" font-weight="normal" fill="#111" textLength="31.60" lengthAdjust="spacingAndGlyphs">14 weeks</text>
<path d="M385.65 371.60V363.68H392.15V371.60" fill="none" stroke="#111111" stroke-width="1.1"/>
<path d="M388.90 359.15V368.20M387.10 359.15H390.70M387.10 368.20H390.70" stroke="#111111" stroke-width="1" fill="none"/>
<circle cx="388.90" cy="358.70" r="1.70" fill="#111111"/>
<circle cx="388.90" cy="366.85" r="1.70" fill="#111111"/>
<circle cx="388.90" cy="363.68" r="1.70" fill="#111111"/>
<path d="M395.70 371.60V368.20H402.20V371.60" fill="none" stroke="#d4143c" stroke-width="1.1"/>
<path d="M398.95 365.94V370.47M397.15 365.94H400.75M397.15 370.47H400.75" stroke="#d4143c" stroke-width="1" fill="none"/>
<rect x="395.92" y="364.98" width="3.06" height="3.06" fill="#d4143c"/>
<rect x="398.92" y="364.98" width="3.06" height="3.06" fill="#d4143c"/>
<rect x="397.42" y="367.81" width="3.06" height="3.06" fill="#d4143c"/>
<path d="M405.75 371.60V342.96H412.25V371.60" fill="none" stroke="#2e6aa6" stroke-width="1.1"/>
<path d="M409.00 336.17V349.75M407.20 336.17H410.80M407.20 349.75H410.80" stroke="#2e6aa6" stroke-width="1" fill="none"/>
<path d="M409.00 333.51L410.87 336.78L407.13 336.78Z" fill="#2e6aa6"/>
<path d="M409.00 344.94L410.87 348.21L407.13 348.21Z" fill="#2e6aa6"/>
<path d="M409.00 342.56L410.87 345.83L407.13 345.83Z" fill="#2e6aa6"/>
<path d="M415.80 371.60V341.60H422.30V371.60" fill="none" stroke="#45bf4b" stroke-width="1.1"/>
<path d="M419.05 323.49V359.71M417.25 323.49H420.85M417.25 359.71H420.85" stroke="#45bf4b" stroke-width="1" fill="none"/>
<path d="M419.05 318.45L420.92 315.18L417.18 315.18Z" fill="#45bf4b"/>
<path d="M419.05 325.70L420.92 322.43L417.18 322.43Z" fill="#45bf4b"/>
<path d="M419.05 337.93L420.92 334.65L417.18 334.65Z" fill="#45bf4b"/>
<path d="M417.05 347.32L418.92 344.05L415.18 344.05Z" fill="#45bf4b"/>
<path d="M421.05 347.32L422.92 344.05L419.18 344.05Z" fill="#45bf4b"/>
<path d="M419.05 368.72L420.92 365.44L417.18 365.44Z" fill="#45bf4b"/>
<path d="M425.85 371.60V299.72H432.35V371.60" fill="none" stroke="#5e1f74" stroke-width="1.1"/>
<path d="M429.10 286.70V312.74M427.30 286.70H430.90M427.30 312.74H430.90" stroke="#5e1f74" stroke-width="1" fill="none"/>
<path d="M429.10 284.60L430.97 286.47L429.10 288.34L427.23 286.47Z" fill="#5e1f74"/>
<path d="M431.50 288.91L433.37 290.78L431.50 292.65L429.63 290.78Z" fill="#5e1f74"/>
<path d="M426.70 290.94L428.57 292.81L426.70 294.68L424.83 292.81Z" fill="#5e1f74"/>
<path d="M429.10 302.49L430.97 304.36L429.10 306.23L427.23 304.36Z" fill="#5e1f74"/>
<path d="M429.10 315.73L430.97 317.60L429.10 319.47L427.23 317.60Z" fill="#5e1f74"/>
<path d="M410.00 371.60V373.90" stroke="#111" stroke-width="1"/>
<text x="410.00" y="381.00" font-size="7.4" text-anchor="middle" font-weight="normal" fill="#111" textLength="31.60" lengthAdjust="spacingAndGlyphs">24 weeks</text>
<text x="34.80" y="456.40" font-size="9.2" text-anchor="middle" font-weight="normal" fill="#1a1a1a" textLength="75.40" lengthAdjust="spacingAndGlyphs" transform="rotate(-90 34.80 456.40)" stroke="#1a1a1a" stroke-width="0.1">Total donor chimerism (%)</text>
<path d="M52.10 403.60V507.90H207.10" stroke="#111" stroke-width="1.35" fill="none"/>
<path d="M49.50 507.90H52.10" stroke="#111" stroke-width="1"/>
<text x="48.30" y="510.85" font-size="8.4" text-anchor="end" font-weight="normal" fill="#111" textLength="4.56" lengthAdjust="spacingAndGlyphs">0</text>
<path d="M49.50 481.95H52.10" stroke="#111" stroke-width="1"/>
<text x="48.30" y="484.90" font-size="8.4" text-anchor="end" font-weight="normal" fill="#111" textLength="9.12" lengthAdjust="spacingAndGlyphs">20</text>
<path d="M49.50 456.00H52.10" stroke="#111" stroke-width="1"/>
<text x="48.30" y="458.95" font-size="8.4" text-anchor="end" font-weight="normal" fill="#111" textLength="9.12" lengthAdjust="spacingAndGlyphs">40</text>
<path d="M49.50 430.05H52.10" stroke="#111" stroke-width="1"/>
<text x="48.30" y="433.00" font-size="8.4" text-anchor="end" font-weight="normal" fill="#111" textLength="9.12" lengthAdjust="spacingAndGlyphs">60</text>
<path d="M49.50 404.10H52.10" stroke="#111" stroke-width="1"/>
<text x="48.30" y="407.05" font-size="8.4" text-anchor="end" font-weight="normal" fill="#111" textLength="9.12" lengthAdjust="spacingAndGlyphs">80</text>
<path d="M57.55 507.90V507.25H66.05V507.90" fill="none" stroke="#111111" stroke-width="1.1"/>
<circle cx="58.80" cy="507.25" r="2.25" fill="#111111"/>
<circle cx="60.80" cy="507.25" r="2.25" fill="#111111"/>
<circle cx="62.80" cy="507.25" r="2.25" fill="#111111"/>
<circle cx="64.80" cy="507.25" r="2.25" fill="#111111"/>
<path d="M72.15 507.90V504.66H80.65V507.90" fill="none" stroke="#45bf4b" stroke-width="1.1"/>
<path d="M76.40 499.60V507.90M74.00 499.60H78.80M74.00 507.90H78.80" stroke="#45bf4b" stroke-width="1" fill="none"/>
<path d="M73.90 502.46L75.99 498.81L71.81 498.81Z" fill="#45bf4b"/>
<path d="M78.90 502.46L80.99 498.81L76.81 498.81Z" fill="#45bf4b"/>
<path d="M76.40 506.75L78.49 503.09L74.31 503.09Z" fill="#45bf4b"/>
<path d="M73.90 508.69L75.99 505.03L71.81 505.03Z" fill="#45bf4b"/>
<path d="M78.90 508.69L80.99 505.03L76.81 505.03Z" fill="#45bf4b"/>
<path d="M86.75 507.90V481.69H95.25V507.90" fill="none" stroke="#5e1f74" stroke-width="1.1"/>
<path d="M91.00 467.81V495.57M88.60 467.81H93.40M88.60 495.57H93.40" stroke="#5e1f74" stroke-width="1" fill="none"/>
<path d="M87.50 464.94L89.59 467.03L87.50 469.12L85.41 467.03Z" fill="#5e1f74"/>
<path d="M94.50 465.72L96.59 467.81L94.50 469.90L92.41 467.81Z" fill="#5e1f74"/>
<path d="M91.00 473.63L93.09 475.72L91.00 477.81L88.91 475.72Z" fill="#5e1f74"/>
<path d="M91.00 478.43L93.09 480.52L91.00 482.61L88.91 480.52Z" fill="#5e1f74"/>
<path d="M87.50 483.49L89.59 485.58L87.50 487.67L85.41 485.58Z" fill="#5e1f74"/>
<path d="M94.50 485.05L96.59 487.14L94.50 489.23L92.41 487.14Z" fill="#5e1f74"/>
<path d="M91.00 504.12L93.09 506.21L91.00 508.30L88.91 506.21Z" fill="#5e1f74"/>
<path d="M76.40 507.90V510.20" stroke="#111" stroke-width="1"/>
<text x="76.40" y="517.30" font-size="7.4" text-anchor="middle" font-weight="normal" fill="#111" textLength="27.00" lengthAdjust="spacingAndGlyphs">4 weeks</text>
<path d="M110.85 507.90V507.25H119.35V507.90" fill="none" stroke="#111111" stroke-width="1.1"/>
<circle cx="112.10" cy="507.25" r="2.25" fill="#111111"/>
<circle cx="114.10" cy="507.25" r="2.25" fill="#111111"/>
<circle cx="116.10" cy="507.25" r="2.25" fill="#111111"/>
<circle cx="118.10" cy="507.25" r="2.25" fill="#111111"/>
<path d="M125.45 507.90V502.71H133.95V507.90" fill="none" stroke="#45bf4b" stroke-width="1.1"/>
<path d="M129.70 492.98V507.90M127.30 492.98H132.10M127.30 507.90H132.10" stroke="#45bf4b" stroke-width="1" fill="none"/>
<path d="M129.70 486.89L131.79 483.24L127.61 483.24Z" fill="#45bf4b"/>
<path d="M127.20 504.80L129.29 501.14L125.11 501.14Z" fill="#45bf4b"/>
<path d="M132.20 506.10L134.29 502.44L130.11 502.44Z" fill="#45bf4b"/>
<path d="M129.70 508.69L131.79 505.03L127.61 505.03Z" fill="#45bf4b"/>
<path d="M140.05 507.90V468.46H148.55V507.90" fill="none" stroke="#5e1f74" stroke-width="1.1"/>
<path d="M144.30 447.57V489.35M141.90 447.57H146.70M141.90 489.35H146.70" stroke="#5e1f74" stroke-width="1" fill="none"/>
<path d="M144.30 439.64L146.39 441.73L144.30 443.82L142.21 441.73Z" fill="#5e1f74"/>
<path d="M140.80 456.50L142.89 458.59L140.80 460.68L138.71 458.59Z" fill="#5e1f74"/>
<path d="M147.80 453.91L149.89 456.00L147.80 458.09L145.71 456.00Z" fill="#5e1f74"/>
<path d="M142.80 474.67L144.89 476.76L142.80 478.85L140.71 476.76Z" fill="#5e1f74"/>
<path d="M145.80 474.67L147.89 476.76L145.80 478.85L143.71 476.76Z" fill="#5e1f74"/>
<path d="M144.30 503.21L146.39 505.30L144.30 507.39L142.21 505.30Z" fill="#5e1f74"/>
<path d="M129.70 507.90V510.20" stroke="#111" stroke-width="1"/>
<text x="129.70" y="517.30" font-size="7.4" text-anchor="middle" font-weight="normal" fill="#111" textLength="31.60" lengthAdjust="spacingAndGlyphs">14 weeks</text>
<path d="M164.15 507.90V507.25H172.65V507.90" fill="none" stroke="#111111" stroke-width="1.1"/>
<circle cx="165.40" cy="507.25" r="2.25" fill="#111111"/>
<circle cx="167.40" cy="507.25" r="2.25" fill="#111111"/>
<circle cx="169.40" cy="507.25" r="2.25" fill="#111111"/>
<circle cx="171.40" cy="507.25" r="2.25" fill="#111111"/>
<path d="M178.75 507.90V502.19H187.25V507.90" fill="none" stroke="#45bf4b" stroke-width="1.1"/>
<path d="M183.00 492.33V507.90M180.60 492.33H185.40M180.60 507.90H185.40" stroke="#45bf4b" stroke-width="1" fill="none"/>
<path d="M183.00 485.60L185.09 481.94L180.91 481.94Z" fill="#45bf4b"/>
<path d="M180.50 504.80L182.59 501.14L178.41 501.14Z" fill="#45bf4b"/>
<path d="M185.50 506.10L187.59 502.44L183.41 502.44Z" fill="#45bf4b"/>
<path d="M183.00 508.69L185.09 505.03L180.91 505.03Z" fill="#45bf4b"/>
<path d="M193.35 507.90V469.88H201.85V507.90" fill="none" stroke="#5e1f74" stroke-width="1.1"/>
<path d="M197.60 450.42V489.35M195.20 450.42H200.00M195.20 489.35H200.00" stroke="#5e1f74" stroke-width="1" fill="none"/>
<path d="M197.60 446.12L199.69 448.21L197.60 450.30L195.51 448.21Z" fill="#5e1f74"/>
<path d="M194.10 458.06L196.19 460.15L194.10 462.24L192.01 460.15Z" fill="#5e1f74"/>
<path d="M201.10 461.05L203.19 463.14L201.10 465.23L199.01 463.14Z" fill="#5e1f74"/>
<path d="M197.60 475.97L199.69 478.06L197.60 480.15L195.51 478.06Z" fill="#5e1f74"/>
<path d="M201.10 477.26L203.19 479.35L201.10 481.44L199.01 479.35Z" fill="#5e1f74"/>
<path d="M197.60 503.47L199.69 505.56L197.60 507.65L195.51 505.56Z" fill="#5e1f74"/>
<path d="M183.00 507.90V510.20" stroke="#111" stroke-width="1"/>
<text x="183.00" y="517.30" font-size="7.4" text-anchor="middle" font-weight="normal" fill="#111" textLength="31.60" lengthAdjust="spacingAndGlyphs">24 weeks</text>
<text x="248.80" y="456.20" font-size="9.2" text-anchor="middle" font-weight="normal" fill="#1a1a1a" textLength="83.40" lengthAdjust="spacingAndGlyphs" transform="rotate(-90 248.80 456.20)" stroke="#1a1a1a" stroke-width="0.1">Myeloid donor chimerism (%)</text>
<path d="M266.10 403.60V507.90H421.10" stroke="#111" stroke-width="1.35" fill="none"/>
<path d="M263.50 507.90H266.10" stroke="#111" stroke-width="1"/>
<text x="262.30" y="510.85" font-size="8.4" text-anchor="end" font-weight="normal" fill="#111" textLength="4.56" lengthAdjust="spacingAndGlyphs">0</text>
<path d="M263.50 481.95H266.10" stroke="#111" stroke-width="1"/>
<text x="262.30" y="484.90" font-size="8.4" text-anchor="end" font-weight="normal" fill="#111" textLength="9.12" lengthAdjust="spacingAndGlyphs">20</text>
<path d="M263.50 456.00H266.10" stroke="#111" stroke-width="1"/>
<text x="262.30" y="458.95" font-size="8.4" text-anchor="end" font-weight="normal" fill="#111" textLength="9.12" lengthAdjust="spacingAndGlyphs">40</text>
<path d="M263.50 430.05H266.10" stroke="#111" stroke-width="1"/>
<text x="262.30" y="433.00" font-size="8.4" text-anchor="end" font-weight="normal" fill="#111" textLength="9.12" lengthAdjust="spacingAndGlyphs">60</text>
<path d="M263.50 404.10H266.10" stroke="#111" stroke-width="1"/>
<text x="262.30" y="407.05" font-size="8.4" text-anchor="end" font-weight="normal" fill="#111" textLength="9.12" lengthAdjust="spacingAndGlyphs">80</text>
<path d="M271.55 507.90V507.25H280.05V507.90" fill="none" stroke="#111111" stroke-width="1.1"/>
<circle cx="272.80" cy="507.25" r="2.25" fill="#111111"/>
<circle cx="274.80" cy="507.25" r="2.25" fill="#111111"/>
<circle cx="276.80" cy="507.25" r="2.25" fill="#111111"/>
<circle cx="278.80" cy="507.25" r="2.25" fill="#111111"/>
<path d="M286.15 507.90V504.27H294.65V507.90" fill="none" stroke="#45bf4b" stroke-width="1.1"/>
<path d="M290.40 500.37V507.90M288.00 500.37H292.80M288.00 507.90H292.80" stroke="#45bf4b" stroke-width="1" fill="none"/>
<path d="M290.40 496.89L292.49 493.23L288.31 493.23Z" fill="#45bf4b"/>
<path d="M287.90 506.36L289.99 502.70L285.81 502.70Z" fill="#45bf4b"/>
<path d="M292.90 507.39L294.99 503.74L290.81 503.74Z" fill="#45bf4b"/>
<path d="M290.40 508.69L292.49 505.03L288.31 505.03Z" fill="#45bf4b"/>
<path d="M300.75 507.90V460.80H309.25V507.90" fill="none" stroke="#5e1f74" stroke-width="1.1"/>
<path d="M305.00 428.62V492.98M302.60 428.62H307.40M302.60 492.98H307.40" stroke="#5e1f74" stroke-width="1" fill="none"/>
<path d="M305.00 411.61L307.09 413.70L305.00 415.79L302.91 413.70Z" fill="#5e1f74"/>
<path d="M305.00 424.07L307.09 426.16L305.00 428.25L302.91 426.16Z" fill="#5e1f74"/>
<path d="M301.50 458.71L303.59 460.80L301.50 462.89L299.41 460.80Z" fill="#5e1f74"/>
<path d="M308.50 458.71L310.59 460.80L308.50 462.89L306.41 460.80Z" fill="#5e1f74"/>
<path d="M301.50 474.93L303.59 477.02L301.50 479.11L299.41 477.02Z" fill="#5e1f74"/>
<path d="M308.50 474.93L310.59 477.02L308.50 479.11L306.41 477.02Z" fill="#5e1f74"/>
<path d="M305.00 504.51L307.09 506.60L305.00 508.69L302.91 506.60Z" fill="#5e1f74"/>
<path d="M290.40 507.90V510.20" stroke="#111" stroke-width="1"/>
<text x="290.40" y="517.30" font-size="7.4" text-anchor="middle" font-weight="normal" fill="#111" textLength="27.00" lengthAdjust="spacingAndGlyphs">4 weeks</text>
<path d="M324.85 507.90V506.86H333.35V507.90" fill="none" stroke="#111111" stroke-width="1.1"/>
<circle cx="326.10" cy="506.60" r="2.25" fill="#111111"/>
<circle cx="328.10" cy="506.86" r="2.25" fill="#111111"/>
<circle cx="330.10" cy="507.25" r="2.25" fill="#111111"/>
<circle cx="332.10" cy="507.25" r="2.25" fill="#111111"/>
<path d="M339.45 507.90V502.45H347.95V507.90" fill="none" stroke="#45bf4b" stroke-width="1.1"/>
<path d="M343.70 494.15V507.90M341.30 494.15H346.10M341.30 507.90H346.10" stroke="#45bf4b" stroke-width="1" fill="none"/>
<path d="M343.70 487.15L345.79 483.50L341.61 483.50Z" fill="#45bf4b"/>
<path d="M341.20 504.80L343.29 501.14L339.11 501.14Z" fill="#45bf4b"/>
<path d="M346.20 506.10L348.29 502.44L344.11 502.44Z" fill="#45bf4b"/>
<path d="M343.70 508.69L345.79 505.03L341.61 505.03Z" fill="#45bf4b"/>
<path d="M354.05 507.90V470.53H362.55V507.90" fill="none" stroke="#5e1f74" stroke-width="1.1"/>
<path d="M358.30 449.90V491.16M355.90 449.90H360.70M355.90 491.16H360.70" stroke="#5e1f74" stroke-width="1" fill="none"/>
<path d="M358.30 442.23L360.39 444.32L358.30 446.41L356.21 444.32Z" fill="#5e1f74"/>
<path d="M358.30 448.72L360.39 450.81L358.30 452.90L356.21 450.81Z" fill="#5e1f74"/>
<path d="M354.80 462.08L356.89 464.17L354.80 466.26L352.71 464.17Z" fill="#5e1f74"/>
<path d="M361.80 462.08L363.89 464.17L361.80 466.26L359.71 464.17Z" fill="#5e1f74"/>
<path d="M358.30 476.49L360.39 478.58L358.30 480.67L356.21 478.58Z" fill="#5e1f74"/>
<path d="M358.30 482.20L360.39 484.29L358.30 486.38L356.21 484.29Z" fill="#5e1f74"/>
<path d="M358.30 502.83L360.39 504.92L358.30 507.01L356.21 504.92Z" fill="#5e1f74"/>
<path d="M343.70 507.90V510.20" stroke="#111" stroke-width="1"/>
<text x="343.70" y="517.30" font-size="7.4" text-anchor="middle" font-weight="normal" fill="#111" textLength="31.60" lengthAdjust="spacingAndGlyphs">14 weeks</text>
<path d="M378.15 507.90V506.86H386.65V507.90" fill="none" stroke="#111111" stroke-width="1.1"/>
<circle cx="379.40" cy="506.60" r="2.25" fill="#111111"/>
<circle cx="381.40" cy="506.86" r="2.25" fill="#111111"/>
<circle cx="383.40" cy="507.25" r="2.25" fill="#111111"/>
<circle cx="385.40" cy="507.25" r="2.25" fill="#111111"/>
<path d="M392.75 507.90V504.27H401.25V507.90" fill="none" stroke="#45bf4b" stroke-width="1.1"/>
<path d="M397.00 494.92V507.90M394.60 494.92H399.40M394.60 507.90H399.40" stroke="#45bf4b" stroke-width="1" fill="none"/>
<path d="M397.00 488.06L399.09 484.40L394.91 484.40Z" fill="#45bf4b"/>
<path d="M394.50 506.10L396.59 502.44L392.41 502.44Z" fill="#45bf4b"/>
<path d="M399.50 507.39L401.59 503.74L397.41 503.74Z" fill="#45bf4b"/>
<path d="M397.00 508.69L399.09 505.03L394.91 505.03Z" fill="#45bf4b"/>
<path d="M407.35 507.90V473.52H415.85V507.90" fill="none" stroke="#5e1f74" stroke-width="1.1"/>
<path d="M411.60 453.40V493.63M409.20 453.40H414.00M409.20 493.63H414.00" stroke="#5e1f74" stroke-width="1" fill="none"/>
<path d="M411.60 451.96L413.69 454.05L411.60 456.14L409.51 454.05Z" fill="#5e1f74"/>
<path d="M408.10 458.58L410.19 460.67L408.10 462.76L406.01 460.67Z" fill="#5e1f74"/>
<path d="M415.10 458.58L417.19 460.67L415.10 462.76L413.01 460.67Z" fill="#5e1f74"/>
<path d="M411.60 475.71L413.69 477.80L411.60 479.89L409.51 477.80Z" fill="#5e1f74"/>
<path d="M411.60 482.20L413.69 484.29L411.60 486.38L409.51 484.29Z" fill="#5e1f74"/>
<path d="M411.60 503.86L413.69 505.95L411.60 508.04L409.51 505.95Z" fill="#5e1f74"/>
<path d="M397.00 507.90V510.20" stroke="#111" stroke-width="1"/>
<text x="397.00" y="517.30" font-size="7.4" text-anchor="middle" font-weight="normal" fill="#111" textLength="31.60" lengthAdjust="spacingAndGlyphs">24 weeks</text>
<text x="35.80" y="580.80" font-size="9.2" text-anchor="middle" font-weight="normal" fill="#1a1a1a" textLength="78.20" lengthAdjust="spacingAndGlyphs" transform="rotate(-90 35.80 580.80)" stroke="#1a1a1a" stroke-width="0.1">B cell donor chimerism (%)</text>
<path d="M53.20 528.33V632.35H208.20" stroke="#111" stroke-width="1.35" fill="none"/>
<path d="M50.60 632.35H53.20" stroke="#111" stroke-width="1"/>
<text x="49.40" y="635.30" font-size="8.4" text-anchor="end" font-weight="normal" fill="#111" textLength="4.56" lengthAdjust="spacingAndGlyphs">0</text>
<path d="M50.60 606.47H53.20" stroke="#111" stroke-width="1"/>
<text x="49.40" y="609.42" font-size="8.4" text-anchor="end" font-weight="normal" fill="#111" textLength="9.12" lengthAdjust="spacingAndGlyphs">20</text>
<path d="M50.60 580.59H53.20" stroke="#111" stroke-width="1"/>
<text x="49.40" y="583.54" font-size="8.4" text-anchor="end" font-weight="normal" fill="#111" textLength="9.12" lengthAdjust="spacingAndGlyphs">40</text>
<path d="M50.60 554.71H53.20" stroke="#111" stroke-width="1"/>
<text x="49.40" y="557.66" font-size="8.4" text-anchor="end" font-weight="normal" fill="#111" textLength="9.12" lengthAdjust="spacingAndGlyphs">60</text>
<path d="M50.60 528.83H53.20" stroke="#111" stroke-width="1"/>
<text x="49.40" y="531.78" font-size="8.4" text-anchor="end" font-weight="normal" fill="#111" textLength="9.12" lengthAdjust="spacingAndGlyphs">80</text>
<path d="M58.65 632.35V631.96H67.15V632.35" fill="none" stroke="#111111" stroke-width="1.1"/>
<circle cx="59.90" cy="631.96" r="2.25" fill="#111111"/>
<circle cx="61.90" cy="631.96" r="2.25" fill="#111111"/>
<circle cx="63.90" cy="631.96" r="2.25" fill="#111111"/>
<circle cx="65.90" cy="631.96" r="2.25" fill="#111111"/>
<path d="M73.25 632.35V629.89H81.75V632.35" fill="none" stroke="#45bf4b" stroke-width="1.1"/>
<path d="M77.50 626.66V632.35M75.10 626.66H79.90M75.10 632.35H79.90" stroke="#45bf4b" stroke-width="1" fill="none"/>
<path d="M77.50 626.16L79.59 622.50L75.41 622.50Z" fill="#45bf4b"/>
<path d="M75.00 630.56L77.09 626.90L72.91 626.90Z" fill="#45bf4b"/>
<path d="M80.00 631.85L82.09 628.19L77.91 628.19Z" fill="#45bf4b"/>
<path d="M77.50 633.79L79.59 630.14L75.41 630.14Z" fill="#45bf4b"/>
<path d="M87.85 632.35V606.60H96.35V632.35" fill="none" stroke="#5e1f74" stroke-width="1.1"/>
<path d="M92.10 594.05V619.15M89.70 594.05H94.50M89.70 619.15H94.50" stroke="#5e1f74" stroke-width="1" fill="none"/>
<path d="M88.60 595.32L90.69 597.41L88.60 599.50L86.51 597.41Z" fill="#5e1f74"/>
<path d="M95.60 595.32L97.69 597.41L95.60 599.50L93.51 597.41Z" fill="#5e1f74"/>
<path d="M94.60 602.05L96.69 604.14L94.60 606.23L92.51 604.14Z" fill="#5e1f74"/>
<path d="M92.10 609.56L94.19 611.65L92.10 613.74L90.01 611.65Z" fill="#5e1f74"/>
<path d="M92.10 630.26L94.19 632.35L92.10 634.44L90.01 632.35Z" fill="#5e1f74"/>
<path d="M77.50 632.35V634.65" stroke="#111" stroke-width="1"/>
<text x="77.50" y="641.75" font-size="7.4" text-anchor="middle" font-weight="normal" fill="#111" textLength="27.00" lengthAdjust="spacingAndGlyphs">4 weeks</text>
<path d="M111.95 632.35V631.96H120.45V632.35" fill="none" stroke="#111111" stroke-width="1.1"/>
<circle cx="113.20" cy="631.96" r="2.25" fill="#111111"/>
<circle cx="115.20" cy="631.96" r="2.25" fill="#111111"/>
<circle cx="117.20" cy="631.96" r="2.25" fill="#111111"/>
<circle cx="119.20" cy="631.96" r="2.25" fill="#111111"/>
<path d="M126.55 632.35V628.08H135.05V632.35" fill="none" stroke="#45bf4b" stroke-width="1.1"/>
<path d="M130.80 620.96V632.35M128.40 620.96H133.20M128.40 632.35H133.20" stroke="#45bf4b" stroke-width="1" fill="none"/>
<path d="M130.80 613.74L132.89 610.08L128.71 610.08Z" fill="#45bf4b"/>
<path d="M128.30 630.56L130.39 626.90L126.21 626.90Z" fill="#45bf4b"/>
<path d="M133.30 631.85L135.39 628.19L131.21 628.19Z" fill="#45bf4b"/>
<path d="M130.80 633.79L132.89 630.14L128.71 630.14Z" fill="#45bf4b"/>
<path d="M141.15 632.35V598.58H149.65V632.35" fill="none" stroke="#5e1f74" stroke-width="1.1"/>
<path d="M145.40 579.30V617.86M143.00 579.30H147.80M143.00 617.86H147.80" stroke="#5e1f74" stroke-width="1" fill="none"/>
<path d="M145.40 572.03L147.49 574.12L145.40 576.21L143.31 574.12Z" fill="#5e1f74"/>
<path d="M145.40 582.90L147.49 584.99L145.40 587.08L143.31 584.99Z" fill="#5e1f74"/>
<path d="M145.40 586.78L147.49 588.87L145.40 590.96L143.31 588.87Z" fill="#5e1f74"/>
<path d="M145.40 592.48L147.49 594.57L145.40 596.66L143.31 594.57Z" fill="#5e1f74"/>
<path d="M141.90 605.80L143.99 607.89L141.90 609.98L139.81 607.89Z" fill="#5e1f74"/>
<path d="M148.90 605.80L150.99 607.89L148.90 609.98L146.81 607.89Z" fill="#5e1f74"/>
<path d="M145.40 628.71L147.49 630.80L145.40 632.89L143.31 630.80Z" fill="#5e1f74"/>
<path d="M130.80 632.35V634.65" stroke="#111" stroke-width="1"/>
<text x="130.80" y="641.75" font-size="7.4" text-anchor="middle" font-weight="normal" fill="#111" textLength="31.60" lengthAdjust="spacingAndGlyphs">14 weeks</text>
<path d="M165.25 632.35V631.96H173.75V632.35" fill="none" stroke="#111111" stroke-width="1.1"/>
<circle cx="166.50" cy="631.96" r="2.25" fill="#111111"/>
<circle cx="168.50" cy="631.96" r="2.25" fill="#111111"/>
<circle cx="170.50" cy="631.96" r="2.25" fill="#111111"/>
<circle cx="172.50" cy="631.96" r="2.25" fill="#111111"/>
<path d="M179.85 632.35V628.47H188.35V632.35" fill="none" stroke="#45bf4b" stroke-width="1.1"/>
<path d="M184.10 619.15V632.35M181.70 619.15H186.50M181.70 632.35H186.50" stroke="#45bf4b" stroke-width="1" fill="none"/>
<path d="M184.10 612.05L186.19 608.40L182.01 608.40Z" fill="#45bf4b"/>
<path d="M181.60 630.56L183.69 626.90L179.51 626.90Z" fill="#45bf4b"/>
<path d="M186.60 631.85L188.69 628.19L184.51 628.19Z" fill="#45bf4b"/>
<path d="M184.10 633.79L186.19 630.14L182.01 630.14Z" fill="#45bf4b"/>
<path d="M194.45 632.35V598.06H202.95V632.35" fill="none" stroke="#5e1f74" stroke-width="1.1"/>
<path d="M198.70 579.30V616.82M196.30 579.30H201.10M196.30 616.82H201.10" stroke="#5e1f74" stroke-width="1" fill="none"/>
<path d="M195.20 573.71L197.29 575.80L195.20 577.89L193.11 575.80Z" fill="#5e1f74"/>
<path d="M202.20 576.43L204.29 578.52L202.20 580.61L200.11 578.52Z" fill="#5e1f74"/>
<path d="M198.70 587.30L200.79 589.39L198.70 591.48L196.61 589.39Z" fill="#5e1f74"/>
<path d="M195.20 602.83L197.29 604.92L195.20 607.01L193.11 604.92Z" fill="#5e1f74"/>
<path d="M202.20 602.83L204.29 604.92L202.20 607.01L200.11 604.92Z" fill="#5e1f74"/>
<path d="M198.70 627.54L200.79 629.63L198.70 631.72L196.61 629.63Z" fill="#5e1f74"/>
<path d="M184.10 632.35V634.65" stroke="#111" stroke-width="1"/>
<text x="184.10" y="641.75" font-size="7.4" text-anchor="middle" font-weight="normal" fill="#111" textLength="31.60" lengthAdjust="spacingAndGlyphs">24 weeks</text>
<text x="248.80" y="580.65" font-size="9.2" text-anchor="middle" font-weight="normal" fill="#1a1a1a" textLength="77.90" lengthAdjust="spacingAndGlyphs" transform="rotate(-90 248.80 580.65)" stroke="#1a1a1a" stroke-width="0.1">T cell donor chimerism (%)</text>
<path d="M266.10 528.33V632.35H421.10" stroke="#111" stroke-width="1.35" fill="none"/>
<path d="M263.50 632.35H266.10" stroke="#111" stroke-width="1"/>
<text x="262.30" y="635.30" font-size="8.4" text-anchor="end" font-weight="normal" fill="#111" textLength="4.56" lengthAdjust="spacingAndGlyphs">0</text>
<path d="M263.50 606.47H266.10" stroke="#111" stroke-width="1"/>
<text x="262.30" y="609.42" font-size="8.4" text-anchor="end" font-weight="normal" fill="#111" textLength="9.12" lengthAdjust="spacingAndGlyphs">20</text>
<path d="M263.50 580.59H266.10" stroke="#111" stroke-width="1"/>
<text x="262.30" y="583.54" font-size="8.4" text-anchor="end" font-weight="normal" fill="#111" textLength="9.12" lengthAdjust="spacingAndGlyphs">40</text>
<path d="M263.50 554.71H266.10" stroke="#111" stroke-width="1"/>
<text x="262.30" y="557.66" font-size="8.4" text-anchor="end" font-weight="normal" fill="#111" textLength="9.12" lengthAdjust="spacingAndGlyphs">60</text>
<path d="M263.50 528.83H266.10" stroke="#111" stroke-width="1"/>
<text x="262.30" y="531.78" font-size="8.4" text-anchor="end" font-weight="normal" fill="#111" textLength="9.12" lengthAdjust="spacingAndGlyphs">80</text>
<path d="M271.55 632.35V631.96H280.05V632.35" fill="none" stroke="#111111" stroke-width="1.1"/>
<circle cx="272.80" cy="631.96" r="2.25" fill="#111111"/>
<circle cx="274.80" cy="631.96" r="2.25" fill="#111111"/>
<circle cx="276.80" cy="631.96" r="2.25" fill="#111111"/>
<circle cx="278.80" cy="631.96" r="2.25" fill="#111111"/>
<path d="M286.15 632.35V629.89H294.65V632.35" fill="none" stroke="#45bf4b" stroke-width="1.1"/>
<path d="M290.40 625.49V632.35M288.00 625.49H292.80M288.00 632.35H292.80" stroke="#45bf4b" stroke-width="1" fill="none"/>
<path d="M290.40 623.44L292.49 619.78L288.31 619.78Z" fill="#45bf4b"/>
<path d="M287.90 630.56L289.99 626.90L285.81 626.90Z" fill="#45bf4b"/>
<path d="M292.90 631.85L294.99 628.19L290.81 628.19Z" fill="#45bf4b"/>
<path d="M290.40 633.79L292.49 630.14L288.31 630.14Z" fill="#45bf4b"/>
<path d="M300.75 632.35V626.14H309.25V632.35" fill="none" stroke="#5e1f74" stroke-width="1.1"/>
<path d="M305.00 620.96V631.31M302.60 620.96H307.40M302.60 631.31H307.40" stroke="#5e1f74" stroke-width="1" fill="none"/>
<path d="M305.00 615.12L307.09 617.21L305.00 619.30L302.91 617.21Z" fill="#5e1f74"/>
<path d="M301.50 620.04L303.59 622.13L301.50 624.22L299.41 622.13Z" fill="#5e1f74"/>
<path d="M308.50 620.04L310.59 622.13L308.50 624.22L306.41 622.13Z" fill="#5e1f74"/>
<path d="M305.00 623.40L307.09 625.49L305.00 627.58L302.91 625.49Z" fill="#5e1f74"/>
<path d="M302.00 626.38L304.09 628.47L302.00 630.56L299.91 628.47Z" fill="#5e1f74"/>
<path d="M305.00 630.26L307.09 632.35L305.00 634.44L302.91 632.35Z" fill="#5e1f74"/>
<path d="M290.40 632.35V634.65" stroke="#111" stroke-width="1"/>
<text x="290.40" y="641.75" font-size="7.4" text-anchor="middle" font-weight="normal" fill="#111" textLength="27.00" lengthAdjust="spacingAndGlyphs">4 weeks</text>
<path d="M324.85 632.35V631.31H333.35V632.35" fill="none" stroke="#111111" stroke-width="1.1"/>
<circle cx="326.10" cy="631.06" r="2.25" fill="#111111"/>
<circle cx="328.10" cy="631.31" r="2.25" fill="#111111"/>
<circle cx="330.10" cy="631.70" r="2.25" fill="#111111"/>
<circle cx="332.10" cy="631.70" r="2.25" fill="#111111"/>
<path d="M339.45 632.35V623.94H347.95V632.35" fill="none" stroke="#45bf4b" stroke-width="1.1"/>
<path d="M343.70 611.78V632.35M341.30 611.78H346.10M341.30 632.35H346.10" stroke="#45bf4b" stroke-width="1" fill="none"/>
<path d="M343.70 602.09L345.79 598.43L341.61 598.43Z" fill="#45bf4b"/>
<path d="M341.20 626.68L343.29 623.02L339.11 623.02Z" fill="#45bf4b"/>
<path d="M346.20 629.26L348.29 625.61L344.11 625.61Z" fill="#45bf4b"/>
<path d="M343.70 633.15L345.79 629.49L341.61 629.49Z" fill="#45bf4b"/>
<path d="M354.05 632.35V579.81H362.55V632.35" fill="none" stroke="#5e1f74" stroke-width="1.1"/>
<path d="M358.30 553.55V606.08M355.90 553.55H360.70M355.90 606.08H360.70" stroke="#5e1f74" stroke-width="1" fill="none"/>
<path d="M358.30 548.74L360.39 550.83L358.30 552.92L356.21 550.83Z" fill="#5e1f74"/>
<path d="M358.30 557.15L360.39 559.24L358.30 561.33L356.21 559.24Z" fill="#5e1f74"/>
<path d="M358.30 567.37L360.39 569.46L358.30 571.55L356.21 569.46Z" fill="#5e1f74"/>
<path d="M354.80 577.34L356.89 579.43L354.80 581.52L352.71 579.43Z" fill="#5e1f74"/>
<path d="M361.80 577.34L363.89 579.43L361.80 581.52L359.71 579.43Z" fill="#5e1f74"/>
<path d="M358.30 583.29L360.39 585.38L358.30 587.47L356.21 585.38Z" fill="#5e1f74"/>
<path d="M358.30 628.71L360.39 630.80L358.30 632.89L356.21 630.80Z" fill="#5e1f74"/>
<path d="M343.70 632.35V634.65" stroke="#111" stroke-width="1"/>
<text x="343.70" y="641.75" font-size="7.4" text-anchor="middle" font-weight="normal" fill="#111" textLength="31.60" lengthAdjust="spacingAndGlyphs">14 weeks</text>
<path d="M378.15 632.35V631.31H386.65V632.35" fill="none" stroke="#111111" stroke-width="1.1"/>
<circle cx="379.40" cy="631.06" r="2.25" fill="#111111"/>
<circle cx="381.40" cy="631.31" r="2.25" fill="#111111"/>
<circle cx="383.40" cy="631.70" r="2.25" fill="#111111"/>
<circle cx="385.40" cy="631.70" r="2.25" fill="#111111"/>
<path d="M392.75 632.35V623.55H401.25V632.35" fill="none" stroke="#45bf4b" stroke-width="1.1"/>
<path d="M397.00 611.39V632.35M394.60 611.39H399.40M394.60 632.35H399.40" stroke="#45bf4b" stroke-width="1" fill="none"/>
<path d="M397.00 601.57L399.09 597.91L394.91 597.91Z" fill="#45bf4b"/>
<path d="M394.50 626.68L396.59 623.02L392.41 623.02Z" fill="#45bf4b"/>
<path d="M399.50 629.26L401.59 625.61L397.41 625.61Z" fill="#45bf4b"/>
<path d="M397.00 633.15L399.09 629.49L394.91 629.49Z" fill="#45bf4b"/>
<path d="M407.35 632.35V584.21H415.85V632.35" fill="none" stroke="#5e1f74" stroke-width="1.1"/>
<path d="M411.60 560.14V608.28M409.20 560.14H414.00M409.20 608.28H414.00" stroke="#5e1f74" stroke-width="1" fill="none"/>
<path d="M411.60 557.54L413.69 559.63L411.60 561.72L409.51 559.63Z" fill="#5e1f74"/>
<path d="M411.60 562.58L413.69 564.67L411.60 566.76L409.51 564.67Z" fill="#5e1f74"/>
<path d="M408.10 575.78L410.19 577.87L408.10 579.96L406.01 577.87Z" fill="#5e1f74"/>
<path d="M415.10 575.78L417.19 577.87L415.10 579.96L413.01 577.87Z" fill="#5e1f74"/>
<path d="M411.60 584.97L413.69 587.06L411.60 589.15L409.51 587.06Z" fill="#5e1f74"/>
<path d="M415.10 588.21L417.19 590.30L415.10 592.39L413.01 590.30Z" fill="#5e1f74"/>
<path d="M411.60 628.32L413.69 630.41L411.60 632.50L409.51 630.41Z" fill="#5e1f74"/>
<path d="M397.00 632.35V634.65" stroke="#111" stroke-width="1"/>
<text x="397.00" y="641.75" font-size="7.4" text-anchor="middle" font-weight="normal" fill="#111" textLength="31.60" lengthAdjust="spacingAndGlyphs">24 weeks</text>
<circle cx="437.00" cy="118.70" r="1.50" fill="#111111"/>
<text x="441.70" y="121.20" font-size="7.1" text-anchor="start" font-weight="normal" fill="#111" textLength="18.70" lengthAdjust="spacingAndGlyphs">ACK2</text>
<rect x="435.65" y="127.35" width="2.70" height="2.70" fill="#d4143c"/>
<text x="441.70" y="131.20" font-size="7.1" text-anchor="start" font-weight="normal" fill="#111" textLength="44.60" lengthAdjust="spacingAndGlyphs">AZA 2.5mg/kg</text>
<path d="M437.00 136.65L438.65 139.54L435.35 139.54Z" fill="#2e6aa6"/>
<text x="441.70" y="140.80" font-size="7.1" text-anchor="start" font-weight="normal" fill="#111" textLength="38.90" lengthAdjust="spacingAndGlyphs">AZA 5mg/kg</text>
<path d="M437.00 149.25L438.65 146.36L435.35 146.36Z" fill="#45bf4b"/>
<text x="441.70" y="150.10" font-size="7.1" text-anchor="start" font-weight="normal" fill="#111" textLength="72.10" lengthAdjust="spacingAndGlyphs">ACK2 + AZA 2.5mg/kg</text>
<path d="M437.00 154.95L438.65 156.60L437.00 158.25L435.35 156.60Z" fill="#5e1f74"/>
<text x="441.70" y="159.10" font-size="7.1" text-anchor="start" font-weight="normal" fill="#111" textLength="66.20" lengthAdjust="spacingAndGlyphs">ACK2 + AZA 5mg/kg</text>
<circle cx="433.20" cy="416.20" r="1.50" fill="#111111"/>
<text x="438.30" y="418.70" font-size="7.1" text-anchor="start" font-weight="normal" fill="#111" textLength="18.70" lengthAdjust="spacingAndGlyphs">ACK2</text>
<path d="M433.20 428.25L434.85 425.36L431.55 425.36Z" fill="#45bf4b"/>
<text x="438.30" y="429.10" font-size="7.1" text-anchor="start" font-weight="normal" fill="#111" textLength="72.10" lengthAdjust="spacingAndGlyphs">ACK2 + AZA 2.5mg/kg</text>
<path d="M433.20 435.95L434.85 437.60L433.20 439.25L431.55 437.60Z" fill="#5e1f74"/>
<text x="438.30" y="440.10" font-size="7.1" text-anchor="start" font-weight="normal" fill="#111" textLength="66.30" lengthAdjust="spacingAndGlyphs">ACK2 + AZA 5mg/kg</text>
<path d="M0.6 0V647M0 0.6H520M519.2 0V647M0 646.2H520" stroke="#000" stroke-width="1.4" fill="none"/>
</svg>
</body></html>
